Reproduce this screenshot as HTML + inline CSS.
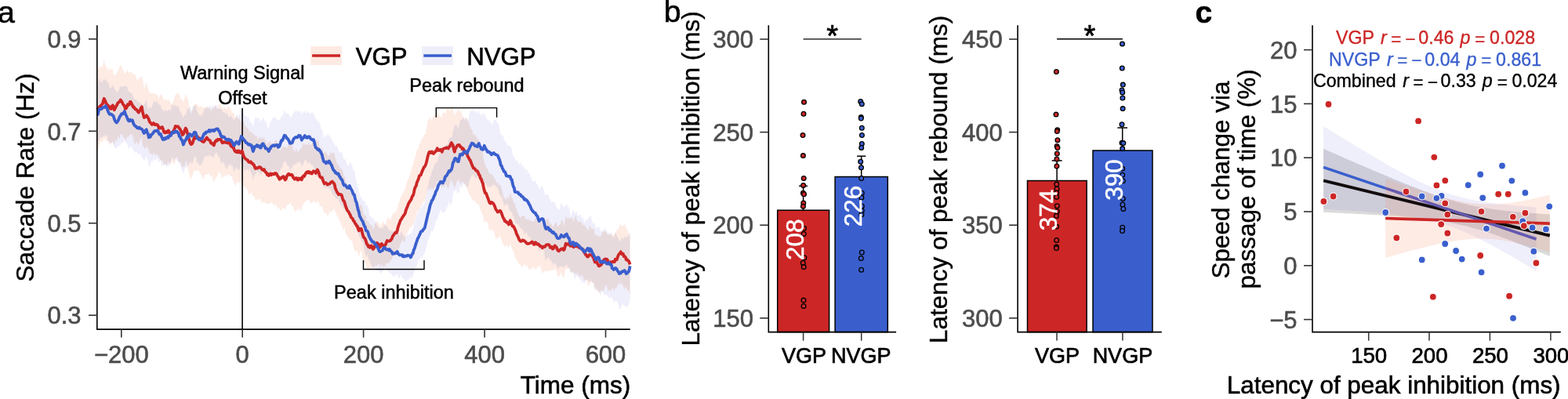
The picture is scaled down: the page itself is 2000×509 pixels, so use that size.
<!DOCTYPE html>
<html lang="en">
<head>
<meta charset="utf-8">
<title>Saccade rate figure</title>
<style>
html,body{margin:0;padding:0;background:#fff;}
body{width:2000px;height:509px;overflow:hidden;}
svg{display:block;font-family:"Liberation Sans",Arial,Helvetica,sans-serif;}
</style>
</head>
<body>
<svg width="2000" height="509" viewBox="0 0 2000 509">
<rect width="2000" height="509" fill="#fff"/>
<g id="panel-a">
<polygon points="123.8,87.7 124.8,88.7 125.8,86.1 126.8,85.7 127.8,85.6 128.8,84.6 129.8,86.1 130.8,84.5 131.8,79.9 132.8,75.4 133.8,81.3 134.8,84.1 135.8,89.2 136.8,85.8 137.8,86.0 138.8,91.6 139.8,87.3 140.8,88.0 141.8,89.4 142.8,87.2 143.8,89.2 144.8,95.0 145.8,96.3 146.8,96.4 147.8,94.6 148.8,93.4 149.8,92.3 150.8,89.0 151.8,87.7 152.8,84.2 153.8,83.1 154.8,84.2 155.8,86.5 156.8,88.4 157.8,91.0 158.8,93.5 159.8,93.9 160.8,92.0 161.8,90.3 162.8,88.3 163.8,92.2 164.8,93.8 165.8,91.1 166.8,92.7 167.8,91.5 168.8,93.9 169.8,93.7 170.8,95.4 171.8,94.7 172.8,95.1 173.8,100.0 174.8,102.3 175.8,100.3 176.8,102.4 177.8,98.0 178.8,99.1 179.8,99.3 180.8,96.1 181.8,99.9 182.8,106.5 183.8,112.4 184.8,111.4 185.8,106.5 186.8,104.5 187.8,109.4 188.8,112.2 189.8,115.8 190.8,119.7 191.8,116.7 192.8,119.5 193.8,119.5 194.8,119.1 195.8,119.1 196.8,117.6 197.8,121.3 198.8,118.8 199.8,121.5 200.8,120.8 201.8,123.4 202.8,126.2 203.8,121.8 204.8,119.8 205.8,122.8 206.8,119.2 207.8,124.3 208.8,128.1 209.8,126.9 210.8,127.1 211.8,128.9 212.8,124.9 213.8,128.9 214.8,127.7 215.8,126.8 216.8,129.6 217.8,131.7 218.8,133.1 219.8,133.0 220.8,128.4 221.8,127.5 222.8,123.4 223.8,120.8 224.8,120.8 225.8,117.7 226.8,118.8 227.8,120.2 228.8,119.4 229.8,124.2 230.8,127.8 231.8,126.5 232.8,127.6 233.8,129.7 234.8,129.3 235.8,123.3 236.8,118.7 237.8,123.7 238.8,124.2 239.8,127.0 240.8,131.8 241.8,136.9 242.8,143.0 243.8,145.9 244.8,140.5 245.8,141.0 246.8,135.6 247.8,134.7 248.8,130.8 249.8,132.4 250.8,133.3 251.8,133.9 252.8,133.4 253.8,136.6 254.8,136.7 255.8,135.4 256.8,135.0 257.8,135.7 258.8,138.5 259.8,135.8 260.8,137.5 261.8,138.5 262.8,137.2 263.8,134.2 264.8,137.4 265.8,138.9 266.8,138.2 267.8,136.6 268.8,141.5 269.8,141.7 270.8,137.9 271.8,137.0 272.8,138.8 273.8,135.9 274.8,134.5 275.8,136.4 276.8,139.5 277.8,138.8 278.8,134.1 279.8,132.5 280.8,130.6 281.8,135.4 282.8,137.0 283.8,138.8 284.8,137.2 285.8,138.0 286.8,135.7 287.8,139.7 288.8,139.5 289.8,137.5 290.8,136.8 291.8,135.7 292.8,136.3 293.8,139.1 294.8,140.2 295.8,143.0 296.8,144.6 297.8,142.9 298.8,145.6 299.8,150.1 300.8,149.9 301.8,149.5 302.8,149.2 303.8,151.6 304.8,151.5 305.8,152.7 306.8,153.6 307.8,156.0 308.8,152.7 309.8,153.1 310.8,155.4 311.8,157.7 312.8,161.3 313.8,161.4 314.8,162.4 315.8,163.8 316.8,164.1 317.8,168.8 318.8,166.0 319.8,169.0 320.8,169.0 321.8,168.8 322.8,171.8 323.8,170.3 324.8,173.1 325.8,174.6 326.8,171.2 327.8,174.9 328.8,178.0 329.8,177.0 330.8,173.7 331.8,175.9 332.8,177.6 333.8,175.3 334.8,175.6 335.8,177.3 336.8,174.0 337.8,178.8 338.8,179.1 339.8,182.2 340.8,184.5 341.8,181.5 342.8,181.5 343.8,179.3 344.8,181.0 345.8,182.9 346.8,183.1 347.8,185.9 348.8,184.2 349.8,181.7 350.8,178.8 351.8,179.2 352.8,178.3 353.8,184.5 354.8,187.9 355.8,189.6 356.8,191.9 357.8,190.8 358.8,190.3 359.8,187.4 360.8,186.6 361.8,187.6 362.8,187.7 363.8,186.8 364.8,187.9 365.8,188.1 366.8,188.4 367.8,182.9 368.8,186.0 369.8,184.5 370.8,183.9 371.8,185.0 372.8,183.5 373.8,190.1 374.8,192.0 375.8,192.1 376.8,193.4 377.8,188.5 378.8,191.6 379.8,194.2 380.8,193.5 381.8,191.8 382.8,190.3 383.8,188.6 384.8,189.8 385.8,185.3 386.8,182.0 387.8,183.8 388.8,185.5 389.8,183.5 390.8,184.0 391.8,185.2 392.8,184.5 393.8,180.5 394.8,184.5 395.8,184.1 396.8,185.3 397.8,183.4 398.8,181.4 399.8,179.5 400.8,179.0 401.8,180.6 402.8,181.3 403.8,177.8 404.8,179.8 405.8,178.6 406.8,181.0 407.8,188.6 408.8,189.9 409.8,189.3 410.8,186.8 411.8,192.3 412.8,194.9 413.8,195.0 414.8,193.4 415.8,192.6 416.8,195.9 417.8,197.4 418.8,199.5 419.8,197.7 420.8,196.0 421.8,194.7 422.8,194.4 423.8,196.5 424.8,195.0 425.8,194.1 426.8,195.3 427.8,202.6 428.8,204.1 429.8,209.5 430.8,208.4 431.8,209.7 432.8,212.3 433.8,215.4 434.8,215.2 435.8,215.0 436.8,216.8 437.8,220.8 438.8,225.0 439.8,224.6 440.8,231.5 441.8,231.2 442.8,236.4 443.8,238.0 444.8,236.5 445.8,241.7 446.8,244.8 447.8,246.3 448.8,245.1 449.8,244.5 450.8,247.3 451.8,246.7 452.8,251.5 453.8,250.7 454.8,257.6 455.8,259.5 456.8,262.2 457.8,265.7 458.8,260.8 459.8,261.4 460.8,261.4 461.8,263.6 462.8,268.7 463.8,273.8 464.8,275.6 465.8,274.3 466.8,275.5 467.8,282.9 468.8,281.6 469.8,282.6 470.8,283.8 471.8,286.5 472.8,287.2 473.8,286.3 474.8,288.9 475.8,290.0 476.8,292.4 477.8,285.9 478.8,284.8 479.8,284.2 480.8,281.5 481.8,283.3 482.8,284.4 483.8,286.0 484.8,291.2 485.8,287.8 486.8,285.5 487.8,283.5 488.8,282.9 489.8,286.1 490.8,286.2 491.8,287.3 492.8,283.6 493.8,278.3 494.8,276.7 495.8,278.7 496.8,279.8 497.8,281.4 498.8,277.9 499.8,273.8 500.8,274.1 501.8,270.4 502.8,272.2 503.8,271.4 504.8,270.5 505.8,268.0 506.8,265.9 507.8,261.3 508.8,256.8 509.8,256.5 510.8,250.5 511.8,251.6 512.8,248.0 513.8,247.3 514.8,245.8 515.8,242.7 516.8,240.4 517.8,236.2 518.8,233.2 519.8,229.7 520.8,228.4 521.8,226.8 522.8,222.3 523.8,219.5 524.8,217.4 525.8,211.6 526.8,210.9 527.8,205.8 528.8,203.7 529.8,199.1 530.8,196.3 531.8,190.1 532.8,190.8 533.8,189.8 534.8,182.5 535.8,184.3 536.8,180.0 537.8,175.5 538.8,177.2 539.8,176.0 540.8,171.0 541.8,171.7 542.8,171.2 543.8,164.1 544.8,160.5 545.8,153.6 546.8,153.0 547.8,150.8 548.8,149.2 549.8,152.9 550.8,151.6 551.8,150.1 552.8,148.2 553.8,145.0 554.8,148.8 555.8,146.7 556.8,144.8 557.8,142.2 558.8,143.4 559.8,146.7 560.8,148.4 561.8,148.0 562.8,150.5 563.8,148.8 564.8,144.0 565.8,142.5 566.8,143.9 567.8,144.4 568.8,144.6 569.8,139.7 570.8,137.8 571.8,137.4 572.8,140.3 573.8,142.3 574.8,135.9 575.8,134.8 576.8,135.4 577.8,139.0 578.8,144.5 579.8,147.7 580.8,144.3 581.8,142.1 582.8,143.7 583.8,140.0 584.8,137.9 585.8,141.0 586.8,143.2 587.8,141.5 588.8,144.2 589.8,148.2 590.8,148.8 591.8,149.2 592.8,153.3 593.8,151.6 594.8,150.1 595.8,151.5 596.8,153.6 597.8,156.2 598.8,160.7 599.8,161.5 600.8,164.9 601.8,165.0 602.8,167.3 603.8,173.1 604.8,171.3 605.8,172.0 606.8,173.6 607.8,174.3 608.8,177.1 609.8,177.3 610.8,179.3 611.8,181.5 612.8,185.5 613.8,186.4 614.8,192.3 615.8,193.7 616.8,202.9 617.8,207.4 618.8,210.1 619.8,212.8 620.8,214.4 621.8,215.6 622.8,217.0 623.8,222.3 624.8,221.3 625.8,221.9 626.8,222.7 627.8,222.6 628.8,223.5 629.8,225.4 630.8,228.5 631.8,228.5 632.8,231.4 633.8,232.8 634.8,234.3 635.8,232.5 636.8,237.4 637.8,235.8 638.8,236.0 639.8,240.8 640.8,244.1 641.8,249.3 642.8,250.9 643.8,252.7 644.8,253.9 645.8,255.3 646.8,250.8 647.8,252.1 648.8,254.2 649.8,249.4 650.8,247.7 651.8,247.6 652.8,252.4 653.8,253.7 654.8,257.9 655.8,258.7 656.8,259.3 657.8,265.2 658.8,265.2 659.8,269.9 660.8,271.6 661.8,275.8 662.8,276.5 663.8,276.3 664.8,279.4 665.8,274.5 666.8,275.0 667.8,275.6 668.8,275.3 669.8,277.9 670.8,279.6 671.8,279.4 672.8,279.5 673.8,281.2 674.8,278.8 675.8,280.3 676.8,282.6 677.8,281.6 678.8,282.2 679.8,283.8 680.8,281.8 681.8,282.2 682.8,276.6 683.8,276.8 684.8,281.9 685.8,279.1 686.8,277.0 687.8,282.8 688.8,281.4 689.8,283.0 690.8,284.1 691.8,283.0 692.8,284.8 693.8,284.0 694.8,281.8 695.8,280.9 696.8,281.0 697.8,278.5 698.8,278.4 699.8,279.7 700.8,283.8 701.8,285.3 702.8,285.3 703.8,286.5 704.8,290.8 705.8,288.1 706.8,287.3 707.8,284.4 708.8,283.6 709.8,284.3 710.8,288.4 711.8,288.4 712.8,289.3 713.8,285.7 714.8,286.2 715.8,281.9 716.8,281.0 717.8,280.9 718.8,286.4 719.8,288.0 720.8,280.3 721.8,275.4 722.8,276.9 723.8,278.5 724.8,280.1 725.8,276.5 726.8,278.8 727.8,279.4 728.8,278.2 729.8,277.3 730.8,281.6 731.8,283.3 732.8,277.4 733.8,276.3 734.8,274.0 735.8,280.6 736.8,281.9 737.8,283.5 738.8,283.1 739.8,281.5 740.8,283.8 741.8,283.7 742.8,285.9 743.8,287.5 744.8,287.2 745.8,287.4 746.8,288.9 747.8,290.3 748.8,292.1 749.8,294.3 750.8,293.1 751.8,289.2 752.8,287.2 753.8,291.2 754.8,292.6 755.8,291.2 756.8,292.0 757.8,293.6 758.8,299.6 759.8,299.4 760.8,299.9 761.8,299.1 762.8,302.2 763.8,302.8 764.8,300.0 765.8,301.3 766.8,301.5 767.8,297.4 768.8,295.5 769.8,294.9 770.8,295.3 771.8,296.9 772.8,293.4 773.8,296.8 774.8,299.1 775.8,299.4 776.8,299.3 777.8,298.6 778.8,299.0 779.8,297.6 780.8,299.8 781.8,300.2 782.8,298.1 783.8,300.5 784.8,297.0 785.8,294.6 786.8,293.5 787.8,292.1 788.8,291.5 789.8,289.4 790.8,286.7 791.8,285.3 792.8,289.4 793.8,287.9 794.8,286.5 795.8,287.6 796.8,286.0 797.8,286.7 798.8,292.5 799.8,291.2 800.8,295.2 801.8,296.9 802.8,299.3 803.6,298.3 803.6,375.1 802.8,373.7 801.8,369.6 800.8,372.0 799.8,368.5 798.8,366.9 797.8,365.2 796.8,369.1 795.8,368.3 794.8,363.9 793.8,362.5 792.8,363.6 791.8,359.0 790.8,363.3 789.8,361.7 788.8,361.5 787.8,362.4 786.8,367.8 785.8,365.6 784.8,368.0 783.8,369.4 782.8,371.3 781.8,366.9 780.8,367.1 779.8,370.2 778.8,372.6 777.8,370.0 776.8,369.2 775.8,373.1 774.8,368.1 773.8,364.1 772.8,363.7 771.8,364.6 770.8,368.9 769.8,371.2 768.8,372.6 767.8,369.2 766.8,370.8 765.8,371.3 764.8,372.9 763.8,375.2 762.8,370.7 761.8,372.3 760.8,365.8 759.8,368.5 758.8,371.5 757.8,365.1 756.8,361.2 755.8,360.7 754.8,361.2 753.8,358.2 752.8,361.3 751.8,363.0 750.8,364.8 749.8,364.1 748.8,359.0 747.8,356.7 746.8,357.0 745.8,356.7 744.8,357.9 743.8,351.7 742.8,352.3 741.8,351.0 740.8,350.6 739.8,354.4 738.8,351.9 737.8,352.2 736.8,346.3 735.8,350.0 734.8,348.7 733.8,349.6 732.8,348.9 731.8,346.1 730.8,347.5 729.8,349.4 728.8,346.6 727.8,347.3 726.8,343.3 725.8,341.1 724.8,344.4 723.8,342.4 722.8,342.4 721.8,343.0 720.8,345.8 719.8,352.9 718.8,354.0 717.8,352.7 716.8,351.6 715.8,347.3 714.8,350.2 713.8,350.8 712.8,353.1 711.8,353.4 710.8,351.8 709.8,345.0 708.8,345.1 707.8,341.3 706.8,343.6 705.8,344.7 704.8,345.7 703.8,344.8 702.8,345.1 701.8,345.0 700.8,345.1 699.8,345.5 698.8,346.6 697.8,346.5 696.8,344.8 695.8,346.2 694.8,345.8 693.8,346.5 692.8,346.9 691.8,350.0 690.8,346.2 689.8,342.0 688.8,339.8 687.8,339.0 686.8,339.5 685.8,341.1 684.8,342.5 683.8,343.0 682.8,342.9 681.8,344.0 680.8,339.8 679.8,341.2 678.8,342.4 677.8,341.2 676.8,344.4 675.8,345.0 674.8,342.9 673.8,342.8 672.8,339.9 671.8,338.4 670.8,338.0 669.8,341.0 668.8,335.4 667.8,337.3 666.8,339.7 665.8,340.1 664.8,340.9 663.8,336.9 662.8,336.3 661.8,338.7 660.8,333.6 659.8,334.0 658.8,330.4 657.8,330.1 656.8,327.1 655.8,322.0 654.8,320.0 653.8,319.7 652.8,316.7 651.8,313.5 650.8,311.3 649.8,312.6 648.8,316.6 647.8,315.1 646.8,311.2 645.8,313.5 644.8,314.2 643.8,315.6 642.8,311.3 641.8,313.0 640.8,310.3 639.8,306.4 638.8,303.5 637.8,301.2 636.8,301.2 635.8,303.9 634.8,303.4 633.8,302.9 632.8,305.9 631.8,302.5 630.8,298.0 629.8,293.6 628.8,295.1 627.8,295.4 626.8,290.8 625.8,294.8 624.8,293.0 623.8,293.5 622.8,285.3 621.8,284.2 620.8,282.1 619.8,282.2 618.8,284.1 617.8,283.3 616.8,280.2 615.8,274.1 614.8,272.3 613.8,268.1 612.8,268.7 611.8,264.5 610.8,261.3 609.8,259.5 608.8,261.5 607.8,259.2 606.8,258.2 605.8,257.1 604.8,254.0 603.8,258.3 602.8,254.1 601.8,254.3 600.8,250.4 599.8,248.8 598.8,249.6 597.8,246.1 596.8,243.1 595.8,240.1 594.8,239.3 593.8,235.3 592.8,234.9 591.8,233.5 590.8,232.0 589.8,231.7 588.8,233.4 587.8,233.8 586.8,234.4 585.8,230.9 584.8,228.2 583.8,230.5 582.8,230.6 581.8,236.4 580.8,235.6 579.8,239.6 578.8,239.4 577.8,233.3 576.8,233.0 575.8,230.7 574.8,229.6 573.8,234.2 572.8,237.2 571.8,241.4 570.8,240.0 569.8,237.3 568.8,234.7 567.8,235.9 566.8,239.6 565.8,237.6 564.8,237.0 563.8,240.0 562.8,239.3 561.8,233.1 560.8,234.4 559.8,234.8 558.8,232.9 557.8,230.8 556.8,234.8 555.8,236.7 554.8,237.9 553.8,239.4 552.8,241.9 551.8,242.2 550.8,238.4 549.8,244.1 548.8,242.0 547.8,238.3 546.8,241.4 545.8,243.1 544.8,243.0 543.8,249.2 542.8,253.1 541.8,256.7 540.8,256.5 539.8,258.4 538.8,259.7 537.8,262.2 536.8,263.5 535.8,263.1 534.8,266.3 533.8,268.6 532.8,268.8 531.8,271.6 530.8,276.5 529.8,279.8 528.8,280.0 527.8,286.3 526.8,286.6 525.8,287.6 524.8,290.3 523.8,290.7 522.8,289.4 521.8,292.2 520.8,296.0 519.8,295.4 518.8,298.3 517.8,300.5 516.8,307.6 515.8,309.4 514.8,307.2 513.8,305.4 512.8,306.6 511.8,310.7 510.8,309.1 509.8,314.8 508.8,316.3 507.8,318.5 506.8,323.9 505.8,325.0 504.8,325.1 503.8,328.0 502.8,325.5 501.8,326.9 500.8,327.6 499.8,330.3 498.8,332.2 497.8,333.1 496.8,334.9 495.8,335.6 494.8,335.1 493.8,336.7 492.8,334.9 491.8,337.8 490.8,339.7 489.8,340.7 488.8,340.4 487.8,338.3 486.8,335.6 485.8,340.2 484.8,341.3 483.8,337.0 482.8,337.0 481.8,337.2 480.8,339.1 479.8,339.8 478.8,338.4 477.8,339.0 476.8,343.7 475.8,343.3 474.8,341.5 473.8,340.3 472.8,341.7 471.8,343.8 470.8,340.8 469.8,344.7 468.8,344.3 467.8,341.7 466.8,335.6 465.8,334.0 464.8,335.6 463.8,334.3 462.8,330.0 461.8,323.9 460.8,319.0 459.8,320.5 458.8,323.8 457.8,326.7 456.8,325.0 455.8,318.5 454.8,320.4 453.8,321.6 452.8,320.1 451.8,318.2 450.8,315.7 449.8,309.8 448.8,306.6 447.8,307.6 446.8,305.9 445.8,305.8 444.8,303.3 443.8,303.5 442.8,300.0 441.8,299.9 440.8,298.4 439.8,291.3 438.8,289.9 437.8,294.6 436.8,290.7 435.8,287.8 434.8,285.8 433.8,282.6 432.8,281.4 431.8,278.4 430.8,276.7 429.8,274.4 428.8,272.4 427.8,271.1 426.8,267.0 425.8,266.0 424.8,267.5 423.8,270.3 422.8,270.2 421.8,269.1 420.8,270.3 419.8,271.9 418.8,274.1 417.8,276.0 416.8,273.1 415.8,272.6 414.8,270.8 413.8,273.3 412.8,268.3 411.8,267.8 410.8,263.2 409.8,263.1 408.8,263.2 407.8,263.1 406.8,258.7 405.8,257.2 404.8,255.3 403.8,259.0 402.8,259.7 401.8,256.7 400.8,256.7 399.8,256.6 398.8,257.9 397.8,257.7 396.8,260.3 395.8,258.7 394.8,255.9 393.8,253.7 392.8,255.8 391.8,255.8 390.8,257.5 389.8,255.4 388.8,257.6 387.8,259.4 386.8,260.5 385.8,262.5 384.8,269.8 383.8,265.2 382.8,268.7 381.8,268.3 380.8,263.5 379.8,267.7 378.8,268.8 377.8,266.4 376.8,269.9 375.8,269.9 374.8,266.6 373.8,262.5 372.8,263.0 371.8,262.8 370.8,258.8 369.8,259.2 368.8,259.3 367.8,262.0 366.8,260.7 365.8,262.4 364.8,265.8 363.8,267.2 362.8,265.9 361.8,265.2 360.8,265.0 359.8,267.7 358.8,267.9 357.8,267.9 356.8,267.7 355.8,264.4 354.8,264.9 353.8,266.9 352.8,263.0 351.8,260.3 350.8,261.6 349.8,263.5 348.8,259.7 347.8,261.5 346.8,256.9 345.8,260.2 344.8,259.4 343.8,258.5 342.8,260.2 341.8,259.7 340.8,261.1 339.8,259.4 338.8,258.7 337.8,259.4 336.8,255.7 335.8,258.8 334.8,258.3 333.8,259.1 332.8,255.1 331.8,254.1 330.8,252.7 329.8,255.1 328.8,254.3 327.8,253.9 326.8,256.6 325.8,256.6 324.8,252.1 323.8,249.5 322.8,251.6 321.8,248.1 320.8,246.9 319.8,244.7 318.8,248.0 317.8,247.6 316.8,247.4 315.8,241.2 314.8,241.7 313.8,240.1 312.8,239.7 311.8,239.0 310.8,237.0 309.8,237.8 308.8,230.6 307.8,232.2 306.8,234.3 305.8,234.3 304.8,230.6 303.8,234.2 302.8,232.1 301.8,232.8 300.8,235.9 299.8,237.9 298.8,234.3 297.8,231.0 296.8,229.6 295.8,225.0 294.8,224.9 293.8,224.6 292.8,223.9 291.8,221.8 290.8,223.6 289.8,222.6 288.8,224.6 287.8,225.4 286.8,224.2 285.8,222.4 284.8,226.8 283.8,227.1 282.8,226.5 281.8,223.4 280.8,219.8 279.8,219.8 278.8,220.0 277.8,222.5 276.8,226.6 275.8,225.2 274.8,228.4 273.8,230.0 272.8,232.1 271.8,230.5 270.8,226.3 269.8,223.9 268.8,226.6 267.8,223.5 266.8,221.3 265.8,221.7 264.8,222.4 263.8,222.1 262.8,223.5 261.8,222.5 260.8,224.3 259.8,228.0 258.8,228.4 257.8,226.5 256.8,223.9 255.8,221.4 254.8,221.6 253.8,218.3 252.8,217.3 251.8,217.0 250.8,219.3 249.8,217.0 248.8,218.3 247.8,218.2 246.8,218.6 245.8,222.7 244.8,225.2 243.8,228.5 242.8,227.0 241.8,223.2 240.8,220.9 239.8,214.1 238.8,212.3 237.8,205.6 236.8,205.1 235.8,211.0 234.8,213.0 233.8,211.7 232.8,214.3 231.8,210.8 230.8,208.2 229.8,205.9 228.8,207.3 227.8,206.4 226.8,203.3 225.8,200.7 224.8,200.5 223.8,204.2 222.8,209.3 221.8,209.4 220.8,207.1 219.8,205.7 218.8,207.4 217.8,209.9 216.8,209.9 215.8,209.7 214.8,205.0 213.8,207.9 212.8,211.4 211.8,209.2 210.8,208.2 209.8,210.0 208.8,210.5 207.8,204.0 206.8,205.7 205.8,204.5 204.8,205.1 203.8,202.2 202.8,200.9 201.8,198.2 200.8,197.4 199.8,196.1 198.8,198.3 197.8,196.9 196.8,195.2 195.8,194.2 194.8,198.7 193.8,196.7 192.8,197.0 191.8,194.8 190.8,196.7 189.8,191.4 188.8,189.3 187.8,187.2 186.8,187.8 185.8,188.9 184.8,190.5 183.8,187.8 182.8,187.6 181.8,184.1 180.8,175.9 179.8,176.2 178.8,178.8 177.8,180.9 176.8,185.7 175.8,184.0 174.8,180.7 173.8,181.0 172.8,183.6 171.8,183.7 170.8,180.1 169.8,177.0 168.8,171.6 167.8,172.4 166.8,170.8 165.8,171.2 164.8,173.7 163.8,174.8 162.8,175.0 161.8,174.7 160.8,177.6 159.8,181.0 158.8,174.9 157.8,176.4 156.8,173.1 155.8,170.9 154.8,171.6 153.8,170.7 152.8,177.1 151.8,176.3 150.8,172.9 149.8,177.3 148.8,180.4 147.8,177.2 146.8,181.4 145.8,187.5 144.8,182.0 143.8,179.4 142.8,182.1 141.8,183.2 140.8,186.4 139.8,181.2 138.8,185.0 137.8,179.4 136.8,180.0 135.8,179.7 134.8,179.6 133.8,177.2 132.8,175.6 131.8,178.9 130.8,181.8 129.8,179.6 128.8,180.9 127.8,181.0 126.8,184.3 125.8,189.7 124.8,189.5 123.8,187.3" fill="#f59b78" fill-opacity="0.2"/>
<polygon points="123.8,110.6 124.8,108.8 125.8,103.6 126.8,99.2 127.8,102.8 128.8,104.4 129.8,105.3 130.8,103.9 131.8,100.7 132.8,102.8 133.8,101.2 134.8,100.9 135.8,103.3 136.8,104.5 137.8,104.5 138.8,106.8 139.8,112.0 140.8,112.0 141.8,113.1 142.8,110.0 143.8,109.0 144.8,109.5 145.8,112.4 146.8,115.1 147.8,115.6 148.8,116.7 149.8,118.8 150.8,115.7 151.8,114.7 152.8,111.0 153.8,110.7 154.8,110.0 155.8,110.3 156.8,110.9 157.8,110.1 158.8,110.0 159.8,109.5 160.8,110.1 161.8,110.2 162.8,113.6 163.8,116.7 164.8,116.8 165.8,118.6 166.8,118.1 167.8,119.1 168.8,120.2 169.8,124.0 170.8,124.9 171.8,127.3 172.8,127.2 173.8,126.1 174.8,128.6 175.8,130.4 176.8,129.9 177.8,129.7 178.8,131.3 179.8,132.4 180.8,131.8 181.8,134.5 182.8,134.1 183.8,132.1 184.8,132.6 185.8,129.4 186.8,126.4 187.8,134.8 188.8,138.0 189.8,139.3 190.8,136.9 191.8,137.0 192.8,137.2 193.8,137.1 194.8,133.2 195.8,129.9 196.8,128.3 197.8,131.5 198.8,129.5 199.8,130.7 200.8,129.1 201.8,133.7 202.8,132.6 203.8,134.0 204.8,132.7 205.8,138.6 206.8,139.5 207.8,141.5 208.8,140.3 209.8,142.4 210.8,138.9 211.8,141.5 212.8,141.4 213.8,141.5 214.8,140.0 215.8,140.0 216.8,139.9 217.8,141.3 218.8,135.7 219.8,132.7 220.8,133.5 221.8,135.6 222.8,135.1 223.8,133.5 224.8,135.8 225.8,137.1 226.8,133.5 227.8,136.6 228.8,141.2 229.8,141.7 230.8,143.2 231.8,146.2 232.8,147.2 233.8,151.4 234.8,146.0 235.8,147.2 236.8,146.5 237.8,143.2 238.8,137.3 239.8,140.0 240.8,138.4 241.8,135.5 242.8,137.8 243.8,141.7 244.8,141.2 245.8,136.3 246.8,134.6 247.8,135.3 248.8,133.9 249.8,133.5 250.8,140.7 251.8,142.1 252.8,144.4 253.8,147.0 254.8,147.3 255.8,147.4 256.8,145.8 257.8,148.0 258.8,144.1 259.8,142.5 260.8,137.8 261.8,137.5 262.8,138.9 263.8,136.0 264.8,137.3 265.8,136.4 266.8,134.0 267.8,136.7 268.8,135.9 269.8,135.9 270.8,137.7 271.8,132.8 272.8,137.1 273.8,133.2 274.8,134.5 275.8,134.3 276.8,134.0 277.8,136.0 278.8,138.6 279.8,138.2 280.8,140.1 281.8,139.1 282.8,138.9 283.8,143.0 284.8,142.7 285.8,144.7 286.8,142.9 287.8,145.5 288.8,143.8 289.8,145.0 290.8,146.8 291.8,149.1 292.8,150.0 293.8,145.5 294.8,148.4 295.8,149.6 296.8,150.6 297.8,154.0 298.8,151.8 299.8,152.0 300.8,148.4 301.8,146.6 302.8,145.2 303.8,148.5 304.8,147.3 305.8,145.7 306.8,143.6 307.8,139.6 308.8,139.5 309.8,139.5 310.8,145.6 311.8,148.4 312.8,148.4 313.8,147.8 314.8,148.3 315.8,151.0 316.8,149.0 317.8,151.4 318.8,153.8 319.8,156.8 320.8,157.5 321.8,157.3 322.8,163.1 323.8,157.7 324.8,151.7 325.8,149.8 326.8,149.3 327.8,150.5 328.8,152.3 329.8,150.1 330.8,150.5 331.8,155.4 332.8,153.8 333.8,153.4 334.8,152.5 335.8,148.4 336.8,151.9 337.8,155.0 338.8,155.1 339.8,155.8 340.8,160.1 341.8,162.9 342.8,163.9 343.8,159.8 344.8,155.4 345.8,154.9 346.8,151.9 347.8,149.6 348.8,151.2 349.8,149.6 350.8,149.5 351.8,150.3 352.8,152.5 353.8,152.4 354.8,152.5 355.8,153.1 356.8,154.0 357.8,151.0 358.8,147.2 359.8,149.1 360.8,145.5 361.8,145.3 362.8,139.3 363.8,141.9 364.8,144.6 365.8,144.6 366.8,145.5 367.8,143.9 368.8,146.2 369.8,149.4 370.8,147.2 371.8,150.2 372.8,147.6 373.8,144.5 374.8,143.5 375.8,140.1 376.8,143.6 377.8,140.5 378.8,143.8 379.8,140.6 380.8,141.5 381.8,143.5 382.8,141.9 383.8,140.4 384.8,146.3 385.8,144.0 386.8,142.7 387.8,142.8 388.8,140.6 389.8,145.1 390.8,144.7 391.8,142.2 392.8,142.1 393.8,143.5 394.8,145.3 395.8,144.0 396.8,145.5 397.8,142.7 398.8,143.0 399.8,146.2 400.8,145.7 401.8,148.8 402.8,151.7 403.8,152.0 404.8,154.2 405.8,155.5 406.8,155.1 407.8,157.6 408.8,161.0 409.8,165.5 410.8,164.9 411.8,168.9 412.8,175.3 413.8,174.4 414.8,173.4 415.8,175.3 416.8,171.9 417.8,171.0 418.8,174.2 419.8,170.5 420.8,173.6 421.8,175.5 422.8,178.1 423.8,177.9 424.8,182.6 425.8,181.8 426.8,185.0 427.8,186.7 428.8,184.6 429.8,186.7 430.8,188.5 431.8,191.9 432.8,194.0 433.8,194.8 434.8,194.8 435.8,194.2 436.8,194.3 437.8,200.5 438.8,204.0 439.8,203.2 440.8,202.7 441.8,207.8 442.8,210.5 443.8,211.4 444.8,211.0 445.8,208.1 446.8,206.2 447.8,210.8 448.8,209.1 449.8,214.5 450.8,218.7 451.8,214.9 452.8,223.1 453.8,228.8 454.8,231.4 455.8,237.1 456.8,240.0 457.8,243.2 458.8,249.1 459.8,251.6 460.8,250.4 461.8,254.1 462.8,255.6 463.8,256.7 464.8,256.1 465.8,257.5 466.8,261.7 467.8,261.9 468.8,262.0 469.8,264.3 470.8,271.8 471.8,276.3 472.8,276.3 473.8,276.9 474.8,278.7 475.8,277.1 476.8,280.4 477.8,280.8 478.8,282.2 479.8,283.3 480.8,287.7 481.8,288.3 482.8,289.6 483.8,291.4 484.8,289.5 485.8,291.7 486.8,289.9 487.8,292.7 488.8,288.4 489.8,289.2 490.8,285.8 491.8,285.3 492.8,289.6 493.8,287.7 494.8,290.8 495.8,292.8 496.8,293.1 497.8,293.4 498.8,295.9 499.8,293.9 500.8,295.6 501.8,295.7 502.8,294.4 503.8,296.1 504.8,296.1 505.8,296.7 506.8,296.9 507.8,295.3 508.8,298.7 509.8,301.1 510.8,297.2 511.8,295.1 512.8,296.6 513.8,299.4 514.8,300.4 515.8,303.6 516.8,300.9 517.8,301.2 518.8,302.3 519.8,296.9 520.8,300.2 521.8,299.7 522.8,297.4 523.8,297.6 524.8,298.9 525.8,293.6 526.8,292.7 527.8,287.4 528.8,283.4 529.8,279.3 530.8,277.2 531.8,273.6 532.8,271.7 533.8,270.6 534.8,266.3 535.8,264.6 536.8,263.3 537.8,265.5 538.8,262.0 539.8,260.9 540.8,259.9 541.8,259.0 542.8,253.4 543.8,249.2 544.8,242.0 545.8,237.6 546.8,234.6 547.8,228.5 548.8,225.6 549.8,223.2 550.8,218.5 551.8,217.1 552.8,214.3 553.8,209.9 554.8,209.8 555.8,206.5 556.8,207.4 557.8,206.2 558.8,201.5 559.8,198.5 560.8,194.2 561.8,195.8 562.8,195.6 563.8,193.6 564.8,194.7 565.8,190.0 566.8,191.5 567.8,185.1 568.8,184.9 569.8,183.4 570.8,184.4 571.8,181.8 572.8,176.5 573.8,176.2 574.8,175.3 575.8,175.1 576.8,174.8 577.8,166.3 578.8,165.6 579.8,160.1 580.8,158.8 581.8,160.6 582.8,158.9 583.8,165.2 584.8,161.7 585.8,160.5 586.8,152.5 587.8,153.0 588.8,153.2 589.8,151.6 590.8,151.0 591.8,149.6 592.8,153.2 593.8,149.7 594.8,149.7 595.8,153.8 596.8,153.1 597.8,150.3 598.8,144.6 599.8,140.7 600.8,140.9 601.8,142.3 602.8,139.3 603.8,142.4 604.8,141.2 605.8,143.3 606.8,140.6 607.8,144.8 608.8,143.3 609.8,140.0 610.8,142.5 611.8,144.3 612.8,146.7 613.8,147.4 614.8,144.2 615.8,146.2 616.8,146.4 617.8,142.4 618.8,147.2 619.8,148.9 620.8,152.3 621.8,151.9 622.8,154.2 623.8,153.1 624.8,155.8 625.8,154.3 626.8,158.8 627.8,159.5 628.8,155.7 629.8,152.8 630.8,152.1 631.8,153.2 632.8,151.6 633.8,156.4 634.8,156.4 635.8,158.1 636.8,163.1 637.8,167.6 638.8,172.9 639.8,171.9 640.8,172.7 641.8,173.5 642.8,176.6 643.8,180.0 644.8,179.5 645.8,183.3 646.8,185.6 647.8,184.3 648.8,186.3 649.8,186.3 650.8,186.2 651.8,187.3 652.8,190.9 653.8,195.4 654.8,200.1 655.8,199.5 656.8,202.8 657.8,205.4 658.8,204.0 659.8,205.1 660.8,207.0 661.8,209.9 662.8,209.0 663.8,206.7 664.8,208.8 665.8,213.3 666.8,210.7 667.8,212.0 668.8,214.9 669.8,215.8 670.8,216.8 671.8,215.1 672.8,218.1 673.8,221.4 674.8,219.8 675.8,222.2 676.8,227.3 677.8,226.2 678.8,230.5 679.8,231.9 680.8,231.3 681.8,231.1 682.8,229.3 683.8,235.1 684.8,235.4 685.8,234.6 686.8,239.8 687.8,240.8 688.8,240.4 689.8,238.9 690.8,236.2 691.8,238.9 692.8,238.6 693.8,244.1 694.8,246.2 695.8,249.1 696.8,249.3 697.8,248.0 698.8,248.3 699.8,248.1 700.8,254.8 701.8,253.4 702.8,257.9 703.8,257.4 704.8,256.9 705.8,257.7 706.8,257.2 707.8,259.0 708.8,261.8 709.8,265.2 710.8,265.4 711.8,266.1 712.8,268.3 713.8,267.3 714.8,261.5 715.8,259.9 716.8,259.8 717.8,261.9 718.8,265.5 719.8,263.2 720.8,262.6 721.8,263.3 722.8,260.1 723.8,261.2 724.8,266.5 725.8,262.8 726.8,270.5 727.8,274.7 728.8,274.7 729.8,270.2 730.8,267.6 731.8,267.9 732.8,273.1 733.8,270.3 734.8,271.9 735.8,269.2 736.8,274.2 737.8,276.2 738.8,274.1 739.8,274.2 740.8,274.5 741.8,278.6 742.8,275.7 743.8,279.0 744.8,281.6 745.8,285.2 746.8,279.1 747.8,281.6 748.8,280.9 749.8,279.2 750.8,277.4 751.8,277.9 752.8,274.0 753.8,275.8 754.8,282.5 755.8,282.6 756.8,286.2 757.8,284.5 758.8,284.4 759.8,291.7 760.8,289.7 761.8,289.8 762.8,290.9 763.8,287.4 764.8,291.7 765.8,295.1 766.8,293.9 767.8,295.4 768.8,294.8 769.8,293.5 770.8,289.8 771.8,294.1 772.8,291.7 773.8,296.3 774.8,297.5 775.8,296.1 776.8,296.4 777.8,299.4 778.8,295.9 779.8,296.6 780.8,302.4 781.8,301.4 782.8,304.3 783.8,300.7 784.8,296.2 785.8,298.1 786.8,300.5 787.8,303.1 788.8,304.5 789.8,306.7 790.8,307.0 791.8,307.4 792.8,303.3 793.8,302.4 794.8,305.2 795.8,305.0 796.8,300.5 797.8,303.3 798.8,302.9 799.8,302.3 800.8,301.0 801.8,302.0 802.8,298.6 803.6,294.7 803.6,382.5 802.8,384.5 801.8,388.6 800.8,391.5 799.8,391.1 798.8,391.0 797.8,389.9 796.8,391.9 795.8,388.9 794.8,388.5 793.8,388.0 792.8,390.1 791.8,393.2 790.8,394.4 789.8,394.6 788.8,388.8 787.8,386.6 786.8,383.7 785.8,383.7 784.8,383.6 783.8,383.9 782.8,386.4 781.8,381.8 780.8,381.1 779.8,377.9 778.8,379.9 777.8,381.4 776.8,378.6 775.8,379.6 774.8,376.9 773.8,377.3 772.8,375.4 771.8,376.9 770.8,374.9 769.8,375.5 768.8,371.8 767.8,371.4 766.8,374.2 765.8,377.5 764.8,372.2 763.8,372.5 762.8,370.9 761.8,369.7 760.8,371.0 759.8,368.4 758.8,369.3 757.8,362.7 756.8,360.5 755.8,360.2 754.8,359.5 753.8,356.4 752.8,359.5 751.8,359.3 750.8,359.1 749.8,356.9 748.8,356.3 747.8,358.0 746.8,358.8 745.8,362.6 744.8,359.0 743.8,362.1 742.8,358.4 741.8,360.4 740.8,356.1 739.8,357.1 738.8,354.0 737.8,354.0 736.8,352.1 735.8,353.0 734.8,350.8 733.8,356.6 732.8,355.9 731.8,350.5 730.8,346.9 729.8,345.7 728.8,348.8 727.8,347.3 726.8,345.2 725.8,340.4 724.8,342.1 723.8,340.0 722.8,336.1 721.8,340.0 720.8,338.1 719.8,340.2 718.8,342.1 717.8,341.4 716.8,338.7 715.8,340.6 714.8,339.9 713.8,339.8 712.8,341.1 711.8,343.2 710.8,342.4 709.8,338.3 708.8,336.4 707.8,338.0 706.8,335.7 705.8,334.8 704.8,338.4 703.8,334.4 702.8,330.8 701.8,332.8 700.8,331.1 699.8,327.6 698.8,328.6 697.8,329.7 696.8,333.1 695.8,331.7 694.8,325.9 693.8,319.7 692.8,318.2 691.8,316.0 690.8,316.7 689.8,318.3 688.8,320.7 687.8,320.2 686.8,317.9 685.8,312.8 684.8,313.3 683.8,314.9 682.8,309.5 681.8,311.2 680.8,308.7 679.8,311.4 678.8,306.7 677.8,306.6 676.8,305.7 675.8,300.5 674.8,302.8 673.8,301.8 672.8,299.3 671.8,295.7 670.8,299.3 669.8,296.4 668.8,299.2 667.8,295.8 666.8,292.6 665.8,292.2 664.8,292.0 663.8,290.5 662.8,290.2 661.8,287.3 660.8,287.3 659.8,284.9 658.8,285.6 657.8,285.4 656.8,281.7 655.8,277.9 654.8,275.7 653.8,274.0 652.8,269.9 651.8,271.2 650.8,268.8 649.8,267.9 648.8,264.8 647.8,260.4 646.8,260.4 645.8,261.3 644.8,260.3 643.8,263.3 642.8,260.8 641.8,259.2 640.8,253.5 639.8,249.9 638.8,253.0 637.8,248.3 636.8,247.9 635.8,244.0 634.8,238.8 633.8,239.4 632.8,239.2 631.8,235.9 630.8,236.5 629.8,236.0 628.8,234.1 627.8,237.6 626.8,238.1 625.8,238.1 624.8,239.3 623.8,237.1 622.8,238.4 621.8,238.5 620.8,236.7 619.8,234.0 618.8,234.8 617.8,230.9 616.8,234.0 615.8,231.6 614.8,231.9 613.8,234.9 612.8,231.4 611.8,227.7 610.8,221.0 609.8,224.3 608.8,226.7 607.8,228.1 606.8,225.4 605.8,228.2 604.8,224.5 603.8,222.2 602.8,222.7 601.8,225.9 600.8,224.3 599.8,228.7 598.8,230.2 597.8,236.8 596.8,237.4 595.8,240.5 594.8,236.9 593.8,235.8 592.8,238.1 591.8,234.3 590.8,235.6 589.8,238.2 588.8,240.7 587.8,236.5 586.8,237.9 585.8,244.9 584.8,246.1 583.8,247.2 582.8,242.9 581.8,241.9 580.8,244.7 579.8,241.4 578.8,244.8 577.8,248.1 576.8,257.5 575.8,259.2 574.8,261.3 573.8,261.4 572.8,257.0 571.8,259.0 570.8,264.7 569.8,263.7 568.8,267.5 567.8,269.3 566.8,271.6 565.8,271.2 564.8,271.5 563.8,269.8 562.8,270.1 561.8,266.6 560.8,271.3 559.8,273.1 558.8,276.6 557.8,279.0 556.8,282.0 555.8,281.1 554.8,286.4 553.8,289.8 552.8,293.7 551.8,295.2 550.8,294.5 549.8,295.2 548.8,298.6 547.8,301.9 546.8,304.8 545.8,306.8 544.8,310.3 543.8,316.0 542.8,317.7 541.8,322.8 540.8,324.6 539.8,326.3 538.8,330.1 537.8,326.9 536.8,328.0 535.8,331.7 534.8,329.2 533.8,332.1 532.8,333.0 531.8,339.7 530.8,340.1 529.8,341.7 528.8,345.4 527.8,347.7 526.8,352.4 525.8,354.6 524.8,352.6 523.8,357.1 522.8,353.2 521.8,355.1 520.8,357.8 519.8,356.3 518.8,359.8 517.8,359.2 516.8,358.7 515.8,356.9 514.8,355.4 513.8,355.3 512.8,354.0 511.8,349.8 510.8,352.2 509.8,354.5 508.8,355.2 507.8,351.9 506.8,349.1 505.8,352.3 504.8,348.8 503.8,353.8 502.8,353.2 501.8,350.8 500.8,354.2 499.8,348.4 498.8,350.0 497.8,349.8 496.8,345.3 495.8,348.3 494.8,345.9 493.8,341.9 492.8,343.6 491.8,342.9 490.8,341.4 489.8,342.3 488.8,345.5 487.8,345.9 486.8,347.2 485.8,350.8 484.8,347.0 483.8,347.4 482.8,345.5 481.8,344.2 480.8,346.4 479.8,343.1 478.8,343.7 477.8,340.4 476.8,342.6 475.8,341.1 474.8,341.5 473.8,337.4 472.8,336.9 471.8,332.5 470.8,332.0 469.8,330.4 468.8,324.0 467.8,326.2 466.8,328.5 465.8,323.1 464.8,319.4 463.8,314.3 462.8,309.1 461.8,308.6 460.8,307.3 459.8,303.4 458.8,303.1 457.8,300.3 456.8,296.9 455.8,296.6 454.8,292.5 453.8,290.2 452.8,282.9 451.8,278.1 450.8,279.7 449.8,279.7 448.8,274.6 447.8,275.4 446.8,270.3 445.8,265.3 444.8,270.4 443.8,270.7 442.8,270.4 441.8,268.2 440.8,270.0 439.8,265.7 438.8,267.7 437.8,264.4 436.8,263.7 435.8,259.6 434.8,263.2 433.8,259.2 432.8,258.2 431.8,251.7 430.8,253.7 429.8,253.9 428.8,253.8 427.8,252.1 426.8,248.7 425.8,250.3 424.8,248.1 423.8,248.1 422.8,244.2 421.8,240.1 420.8,242.3 419.8,239.6 418.8,240.1 417.8,239.9 416.8,236.5 415.8,240.8 414.8,237.9 413.8,238.2 412.8,239.3 411.8,232.9 410.8,231.0 409.8,225.8 408.8,224.6 407.8,226.4 406.8,220.9 405.8,221.9 404.8,224.7 403.8,225.9 402.8,223.3 401.8,218.1 400.8,214.8 399.8,212.5 398.8,210.3 397.8,210.2 396.8,211.1 395.8,208.8 394.8,206.7 393.8,207.1 392.8,209.2 391.8,207.4 390.8,204.7 389.8,204.5 388.8,205.0 387.8,205.2 386.8,210.7 385.8,208.9 384.8,214.4 383.8,207.9 382.8,207.2 381.8,206.3 380.8,206.8 379.8,207.4 378.8,206.8 377.8,209.3 376.8,210.2 375.8,208.2 374.8,210.9 373.8,209.6 372.8,214.7 371.8,213.4 370.8,215.4 369.8,217.9 368.8,212.8 367.8,211.3 366.8,211.4 365.8,209.5 364.8,207.6 363.8,205.6 362.8,206.3 361.8,206.7 360.8,209.7 359.8,214.6 358.8,213.5 357.8,216.4 356.8,217.4 355.8,221.2 354.8,223.2 353.8,219.3 352.8,218.9 351.8,217.8 350.8,216.3 349.8,220.0 348.8,218.9 347.8,215.5 346.8,218.4 345.8,220.7 344.8,219.6 343.8,219.7 342.8,223.1 341.8,222.0 340.8,222.9 339.8,221.5 338.8,222.5 337.8,220.5 336.8,215.2 335.8,215.3 334.8,217.8 333.8,221.4 332.8,222.8 331.8,221.9 330.8,221.2 329.8,219.0 328.8,218.9 327.8,217.0 326.8,222.6 325.8,221.3 324.8,223.2 323.8,225.8 322.8,230.3 321.8,224.8 320.8,221.0 319.8,219.9 318.8,214.0 317.8,215.6 316.8,219.9 315.8,215.5 314.8,215.7 313.8,216.9 312.8,217.9 311.8,216.4 310.8,215.2 309.8,212.2 308.8,207.5 307.8,208.7 306.8,208.1 305.8,214.3 304.8,217.5 303.8,215.6 302.8,216.7 301.8,212.5 300.8,215.1 299.8,216.6 298.8,219.1 297.8,215.7 296.8,211.2 295.8,213.3 294.8,209.7 293.8,208.7 292.8,211.2 291.8,211.9 290.8,209.8 289.8,216.0 288.8,214.9 287.8,213.6 286.8,211.6 285.8,207.3 284.8,208.6 283.8,205.0 282.8,209.2 281.8,208.2 280.8,203.3 279.8,198.6 278.8,202.1 277.8,198.7 276.8,195.3 275.8,194.4 274.8,195.8 273.8,196.3 272.8,200.7 271.8,200.0 270.8,201.3 269.8,198.2 268.8,199.1 267.8,199.9 266.8,196.5 265.8,199.9 264.8,197.9 263.8,200.7 262.8,197.3 261.8,200.1 260.8,200.0 259.8,203.1 258.8,205.9 257.8,208.9 256.8,210.7 255.8,209.6 254.8,210.9 253.8,209.9 252.8,207.7 251.8,207.0 250.8,207.1 249.8,199.8 248.8,198.9 247.8,200.8 246.8,204.2 245.8,206.9 244.8,210.0 243.8,206.1 242.8,207.6 241.8,207.9 240.8,207.7 239.8,212.7 238.8,210.3 237.8,213.9 236.8,213.1 235.8,214.8 234.8,219.8 233.8,221.2 232.8,218.6 231.8,216.5 230.8,213.6 229.8,209.9 228.8,209.5 227.8,206.9 226.8,204.9 225.8,205.7 224.8,203.0 223.8,200.8 222.8,203.6 221.8,205.0 220.8,201.8 219.8,200.5 218.8,202.4 217.8,205.4 216.8,207.4 215.8,209.6 214.8,214.0 213.8,209.7 212.8,213.0 211.8,214.3 210.8,208.7 209.8,209.9 208.8,211.3 207.8,212.1 206.8,211.0 205.8,208.9 204.8,203.8 203.8,205.9 202.8,206.2 201.8,206.4 200.8,202.1 199.8,201.8 198.8,203.8 197.8,205.4 196.8,203.0 195.8,201.6 194.8,206.5 193.8,207.0 192.8,204.4 191.8,209.1 190.8,213.7 189.8,212.0 188.8,203.9 187.8,203.3 186.8,198.4 185.8,202.2 184.8,203.4 183.8,205.1 182.8,203.7 181.8,201.6 180.8,200.3 179.8,198.1 178.8,195.9 177.8,196.7 176.8,196.4 175.8,197.7 174.8,194.2 173.8,194.1 172.8,194.1 171.8,196.3 170.8,191.6 169.8,191.7 168.8,189.1 167.8,187.0 166.8,187.7 165.8,186.1 164.8,190.0 163.8,189.5 162.8,183.6 161.8,182.7 160.8,183.1 159.8,180.0 158.8,175.9 157.8,181.5 156.8,183.5 155.8,181.3 154.8,182.0 153.8,186.0 152.8,184.0 151.8,187.9 150.8,185.5 149.8,186.8 148.8,189.8 147.8,189.1 146.8,190.1 145.8,185.9 144.8,185.1 143.8,182.6 142.8,181.0 141.8,183.0 140.8,182.7 139.8,180.2 138.8,180.2 137.8,179.5 136.8,172.9 135.8,171.9 134.8,173.0 133.8,172.9 132.8,174.3 131.8,173.0 130.8,175.1 129.8,176.2 128.8,174.5 127.8,176.0 126.8,179.0 125.8,179.8 124.8,183.1 123.8,180.6" fill="#5f55d7" fill-opacity="0.1"/>
<polygon points="123.8,110.6 124.8,108.8 125.8,103.6 126.8,99.2 127.8,102.8 128.8,104.4 129.8,105.3 130.8,103.9 131.8,100.7 132.8,102.8 133.8,101.2 134.8,100.9 135.8,103.3 136.8,104.5 137.8,104.5 138.8,106.8 139.8,112.0 140.8,112.0 141.8,113.1 142.8,110.0 143.8,109.0 144.8,109.5 145.8,112.4 146.8,115.1 147.8,115.6 148.8,116.7 149.8,118.8 150.8,115.7 151.8,114.7 152.8,111.0 153.8,110.7 154.8,110.0 155.8,110.3 156.8,110.9 157.8,110.1 158.8,110.0 159.8,109.5 160.8,110.1 161.8,110.2 162.8,113.6 163.8,116.7 164.8,116.8 165.8,118.6 166.8,118.1 167.8,119.1 168.8,120.2 169.8,124.0 170.8,124.9 171.8,127.3 172.8,127.2 173.8,126.1 174.8,128.6 175.8,130.4 176.8,129.9 177.8,129.7 178.8,131.3 179.8,132.4 180.8,131.8 181.8,134.5 182.8,134.1 183.8,132.1 184.8,132.6 185.8,129.4 186.8,126.4 187.8,134.8 188.8,138.0 189.8,139.3 190.8,136.9 191.8,137.0 192.8,137.2 193.8,137.1 194.8,133.2 195.8,129.9 196.8,128.3 197.8,131.5 198.8,129.5 199.8,130.7 200.8,129.1 201.8,133.7 202.8,132.6 203.8,134.0 204.8,132.7 205.8,138.6 206.8,139.5 207.8,141.5 208.8,140.3 209.8,142.4 210.8,138.9 211.8,141.5 212.8,141.4 213.8,141.5 214.8,140.0 215.8,140.0 216.8,139.9 217.8,141.3 218.8,135.7 219.8,133.0 220.8,133.5 221.8,135.6 222.8,135.1 223.8,133.5 224.8,135.8 225.8,137.1 226.8,133.5 227.8,136.6 228.8,141.2 229.8,141.7 230.8,143.2 231.8,146.2 232.8,147.2 233.8,151.4 234.8,146.0 235.8,147.2 236.8,146.5 237.8,143.2 238.8,137.3 239.8,140.0 240.8,138.4 241.8,136.9 242.8,143.0 243.8,145.9 244.8,141.2 245.8,141.0 246.8,135.6 247.8,135.3 248.8,133.9 249.8,133.5 250.8,140.7 251.8,142.1 252.8,144.4 253.8,147.0 254.8,147.3 255.8,147.4 256.8,145.8 257.8,148.0 258.8,144.1 259.8,142.5 260.8,137.8 261.8,138.5 262.8,138.9 263.8,136.0 264.8,137.4 265.8,138.9 266.8,138.2 267.8,136.7 268.8,141.5 269.8,141.7 270.8,137.9 271.8,137.0 272.8,138.8 273.8,135.9 274.8,134.5 275.8,136.4 276.8,139.5 277.8,138.8 278.8,138.6 279.8,138.2 280.8,140.1 281.8,139.1 282.8,138.9 283.8,143.0 284.8,142.7 285.8,144.7 286.8,142.9 287.8,145.5 288.8,143.8 289.8,145.0 290.8,146.8 291.8,149.1 292.8,150.0 293.8,145.5 294.8,148.4 295.8,149.6 296.8,150.6 297.8,154.0 298.8,151.8 299.8,152.0 300.8,149.9 301.8,149.5 302.8,149.2 303.8,151.6 304.8,151.5 305.8,152.7 306.8,153.6 307.8,156.0 308.8,152.7 309.8,153.1 310.8,155.4 311.8,157.7 312.8,161.3 313.8,161.4 314.8,162.4 315.8,163.8 316.8,164.1 317.8,168.8 318.8,166.0 319.8,169.0 320.8,169.0 321.8,168.8 322.8,171.8 323.8,170.3 324.8,173.1 325.8,174.6 326.8,171.2 327.8,174.9 328.8,178.0 329.8,177.0 330.8,173.7 331.8,175.9 332.8,177.6 333.8,175.3 334.8,175.6 335.8,177.3 336.8,174.0 337.8,178.8 338.8,179.1 339.8,182.2 340.8,184.5 341.8,181.5 342.8,181.5 343.8,179.3 344.8,181.0 345.8,182.9 346.8,183.1 347.8,185.9 348.8,184.2 349.8,181.7 350.8,178.8 351.8,179.2 352.8,178.3 353.8,184.5 354.8,187.9 355.8,189.6 356.8,191.9 357.8,190.8 358.8,190.3 359.8,187.4 360.8,186.6 361.8,187.6 362.8,187.7 363.8,186.8 364.8,187.9 365.8,188.1 366.8,188.4 367.8,182.9 368.8,186.0 369.8,184.5 370.8,183.9 371.8,185.0 372.8,183.5 373.8,190.1 374.8,192.0 375.8,192.1 376.8,193.4 377.8,188.5 378.8,191.6 379.8,194.2 380.8,193.5 381.8,191.8 382.8,190.3 383.8,188.6 384.8,189.8 385.8,185.3 386.8,182.0 387.8,183.8 388.8,185.5 389.8,183.5 390.8,184.0 391.8,185.2 392.8,184.5 393.8,180.5 394.8,184.5 395.8,184.1 396.8,185.3 397.8,183.4 398.8,181.4 399.8,179.5 400.8,179.0 401.8,180.6 402.8,181.3 403.8,177.8 404.8,179.8 405.8,178.6 406.8,181.0 407.8,188.6 408.8,189.9 409.8,189.3 410.8,186.8 411.8,192.3 412.8,194.9 413.8,195.0 414.8,193.4 415.8,192.6 416.8,195.9 417.8,197.4 418.8,199.5 419.8,197.7 420.8,196.0 421.8,194.7 422.8,194.4 423.8,196.5 424.8,195.0 425.8,194.1 426.8,195.3 427.8,202.6 428.8,204.1 429.8,209.5 430.8,208.4 431.8,209.7 432.8,212.3 433.8,215.4 434.8,215.2 435.8,215.0 436.8,216.8 437.8,220.8 438.8,225.0 439.8,224.6 440.8,231.5 441.8,231.2 442.8,236.4 443.8,238.0 444.8,236.5 445.8,241.7 446.8,244.8 447.8,246.3 448.8,245.1 449.8,244.5 450.8,247.3 451.8,246.7 452.8,251.5 453.8,250.7 454.8,257.6 455.8,259.5 456.8,262.2 457.8,265.7 458.8,260.8 459.8,261.4 460.8,261.4 461.8,263.6 462.8,268.7 463.8,273.8 464.8,275.6 465.8,274.3 466.8,275.5 467.8,282.9 468.8,281.6 469.8,282.6 470.8,283.8 471.8,286.5 472.8,287.2 473.8,286.3 474.8,288.9 475.8,290.0 476.8,292.4 477.8,285.9 478.8,284.8 479.8,284.2 480.8,287.7 481.8,288.3 482.8,289.6 483.8,291.4 484.8,291.2 485.8,291.7 486.8,289.9 487.8,292.7 488.8,288.4 489.8,289.2 490.8,286.2 491.8,287.3 492.8,289.6 493.8,287.7 494.8,290.8 495.8,292.8 496.8,293.1 497.8,293.4 498.8,295.9 499.8,293.9 500.8,295.6 501.8,295.7 502.8,294.4 503.8,296.1 504.8,296.1 505.8,296.7 506.8,296.9 507.8,295.3 508.8,298.7 509.8,301.1 510.8,297.2 511.8,295.1 512.8,296.6 513.8,299.4 514.8,300.4 515.8,303.6 516.8,300.9 516.8,307.6 515.8,309.4 514.8,307.2 513.8,305.4 512.8,306.6 511.8,310.7 510.8,309.1 509.8,314.8 508.8,316.3 507.8,318.5 506.8,323.9 505.8,325.0 504.8,325.1 503.8,328.0 502.8,325.5 501.8,326.9 500.8,327.6 499.8,330.3 498.8,332.2 497.8,333.1 496.8,334.9 495.8,335.6 494.8,335.1 493.8,336.7 492.8,334.9 491.8,337.8 490.8,339.7 489.8,340.7 488.8,340.4 487.8,338.3 486.8,335.6 485.8,340.2 484.8,341.3 483.8,337.0 482.8,337.0 481.8,337.2 480.8,339.1 479.8,339.8 478.8,338.4 477.8,339.0 476.8,342.6 475.8,341.1 474.8,341.5 473.8,337.4 472.8,336.9 471.8,332.5 470.8,332.0 469.8,330.4 468.8,324.0 467.8,326.2 466.8,328.5 465.8,323.1 464.8,319.4 463.8,314.3 462.8,309.1 461.8,308.6 460.8,307.3 459.8,303.4 458.8,303.1 457.8,300.3 456.8,296.9 455.8,296.6 454.8,292.5 453.8,290.2 452.8,282.9 451.8,278.1 450.8,279.7 449.8,279.7 448.8,274.6 447.8,275.4 446.8,270.3 445.8,265.3 444.8,270.4 443.8,270.7 442.8,270.4 441.8,268.2 440.8,270.0 439.8,265.7 438.8,267.7 437.8,264.4 436.8,263.7 435.8,259.6 434.8,263.2 433.8,259.2 432.8,258.2 431.8,251.7 430.8,253.7 429.8,253.9 428.8,253.8 427.8,252.1 426.8,248.7 425.8,250.3 424.8,248.1 423.8,248.1 422.8,244.2 421.8,240.1 420.8,242.3 419.8,239.6 418.8,240.1 417.8,239.9 416.8,236.5 415.8,240.8 414.8,237.9 413.8,238.2 412.8,239.3 411.8,232.9 410.8,231.0 409.8,225.8 408.8,224.6 407.8,226.4 406.8,220.9 405.8,221.9 404.8,224.7 403.8,225.9 402.8,223.3 401.8,218.1 400.8,214.8 399.8,212.5 398.8,210.3 397.8,210.2 396.8,211.1 395.8,208.8 394.8,206.7 393.8,207.1 392.8,209.2 391.8,207.4 390.8,204.7 389.8,204.5 388.8,205.0 387.8,205.2 386.8,210.7 385.8,208.9 384.8,214.4 383.8,207.9 382.8,207.2 381.8,206.3 380.8,206.8 379.8,207.4 378.8,206.8 377.8,209.3 376.8,210.2 375.8,208.2 374.8,210.9 373.8,209.6 372.8,214.7 371.8,213.4 370.8,215.4 369.8,217.9 368.8,212.8 367.8,211.3 366.8,211.4 365.8,209.5 364.8,207.6 363.8,205.6 362.8,206.3 361.8,206.7 360.8,209.7 359.8,214.6 358.8,213.5 357.8,216.4 356.8,217.4 355.8,221.2 354.8,223.2 353.8,219.3 352.8,218.9 351.8,217.8 350.8,216.3 349.8,220.0 348.8,218.9 347.8,215.5 346.8,218.4 345.8,220.7 344.8,219.6 343.8,219.7 342.8,223.1 341.8,222.0 340.8,222.9 339.8,221.5 338.8,222.5 337.8,220.5 336.8,215.2 335.8,215.3 334.8,217.8 333.8,221.4 332.8,222.8 331.8,221.9 330.8,221.2 329.8,219.0 328.8,218.9 327.8,217.0 326.8,222.6 325.8,221.3 324.8,223.2 323.8,225.8 322.8,230.3 321.8,224.8 320.8,221.0 319.8,219.9 318.8,214.0 317.8,215.6 316.8,219.9 315.8,215.5 314.8,215.7 313.8,216.9 312.8,217.9 311.8,216.4 310.8,215.2 309.8,212.2 308.8,207.5 307.8,208.7 306.8,208.1 305.8,214.3 304.8,217.5 303.8,215.6 302.8,216.7 301.8,212.5 300.8,215.1 299.8,216.6 298.8,219.1 297.8,215.7 296.8,211.2 295.8,213.3 294.8,209.7 293.8,208.7 292.8,211.2 291.8,211.9 290.8,209.8 289.8,216.0 288.8,214.9 287.8,213.6 286.8,211.6 285.8,207.3 284.8,208.6 283.8,205.0 282.8,209.2 281.8,208.2 280.8,203.3 279.8,198.6 278.8,202.1 277.8,198.7 276.8,195.3 275.8,194.4 274.8,195.8 273.8,196.3 272.8,200.7 271.8,200.0 270.8,201.3 269.8,198.2 268.8,199.1 267.8,199.9 266.8,196.5 265.8,199.9 264.8,197.9 263.8,200.7 262.8,197.3 261.8,200.1 260.8,200.0 259.8,203.1 258.8,205.9 257.8,208.9 256.8,210.7 255.8,209.6 254.8,210.9 253.8,209.9 252.8,207.7 251.8,207.0 250.8,207.1 249.8,199.8 248.8,198.9 247.8,200.8 246.8,204.2 245.8,206.9 244.8,210.0 243.8,206.1 242.8,207.6 241.8,207.9 240.8,207.7 239.8,212.7 238.8,210.3 237.8,205.6 236.8,205.1 235.8,211.0 234.8,213.0 233.8,211.7 232.8,214.3 231.8,210.8 230.8,208.2 229.8,205.9 228.8,207.3 227.8,206.4 226.8,203.3 225.8,200.7 224.8,200.5 223.8,200.8 222.8,203.6 221.8,205.0 220.8,201.8 219.8,200.5 218.8,202.4 217.8,205.4 216.8,207.4 215.8,209.6 214.8,205.0 213.8,207.9 212.8,211.4 211.8,209.2 210.8,208.2 209.8,209.9 208.8,210.5 207.8,204.0 206.8,205.7 205.8,204.5 204.8,203.8 203.8,202.2 202.8,200.9 201.8,198.2 200.8,197.4 199.8,196.1 198.8,198.3 197.8,196.9 196.8,195.2 195.8,194.2 194.8,198.7 193.8,196.7 192.8,197.0 191.8,194.8 190.8,196.7 189.8,191.4 188.8,189.3 187.8,187.2 186.8,187.8 185.8,188.9 184.8,190.5 183.8,187.8 182.8,187.6 181.8,184.1 180.8,175.9 179.8,176.2 178.8,178.8 177.8,180.9 176.8,185.7 175.8,184.0 174.8,180.7 173.8,181.0 172.8,183.6 171.8,183.7 170.8,180.1 169.8,177.0 168.8,171.6 167.8,172.4 166.8,170.8 165.8,171.2 164.8,173.7 163.8,174.8 162.8,175.0 161.8,174.7 160.8,177.6 159.8,180.0 158.8,174.9 157.8,176.4 156.8,173.1 155.8,170.9 154.8,171.6 153.8,170.7 152.8,177.1 151.8,176.3 150.8,172.9 149.8,177.3 148.8,180.4 147.8,177.2 146.8,181.4 145.8,185.9 144.8,182.0 143.8,179.4 142.8,181.0 141.8,183.0 140.8,182.7 139.8,180.2 138.8,180.2 137.8,179.4 136.8,172.9 135.8,171.9 134.8,173.0 133.8,172.9 132.8,174.3 131.8,173.0 130.8,175.1 129.8,176.2 128.8,174.5 127.8,176.0 126.8,179.0 125.8,179.8 124.8,183.1 123.8,180.6" fill="#00a03c" fill-opacity="0.025"/>
<polygon points="544.8,242.0 545.8,237.6 546.8,234.6 547.8,228.5 548.8,225.6 549.8,223.2 550.8,218.5 551.8,217.1 552.8,214.3 553.8,209.9 554.8,209.8 555.8,206.5 556.8,207.4 557.8,206.2 558.8,201.5 559.8,198.5 560.8,194.2 561.8,195.8 562.8,195.6 563.8,193.6 564.8,194.7 565.8,190.0 566.8,191.5 567.8,185.1 568.8,184.9 569.8,183.4 570.8,184.4 571.8,181.8 572.8,176.5 573.8,176.2 574.8,175.3 575.8,175.1 576.8,174.8 577.8,166.3 578.8,165.6 579.8,160.1 580.8,158.8 581.8,160.6 582.8,158.9 583.8,165.2 584.8,161.7 585.8,160.5 586.8,152.5 587.8,153.0 588.8,153.2 589.8,151.6 590.8,151.0 591.8,149.6 592.8,153.3 593.8,151.6 594.8,150.1 595.8,153.8 596.8,153.6 597.8,156.2 598.8,160.7 599.8,161.5 600.8,164.9 601.8,165.0 602.8,167.3 603.8,173.1 604.8,171.3 605.8,172.0 606.8,173.6 607.8,174.3 608.8,177.1 609.8,177.3 610.8,179.3 611.8,181.5 612.8,185.5 613.8,186.4 614.8,192.3 615.8,193.7 616.8,202.9 617.8,207.4 618.8,210.1 619.8,212.8 620.8,214.4 621.8,215.6 622.8,217.0 623.8,222.3 624.8,221.3 625.8,221.9 626.8,222.7 627.8,222.6 628.8,223.5 629.8,225.4 630.8,228.5 631.8,228.5 632.8,231.4 633.8,232.8 634.8,234.3 635.8,232.5 636.8,237.4 637.8,235.8 638.8,236.0 639.8,240.8 640.8,244.1 641.8,249.3 642.8,250.9 643.8,252.7 644.8,253.9 645.8,255.3 646.8,250.8 647.8,252.1 648.8,254.2 649.8,249.4 650.8,247.7 651.8,247.6 652.8,252.4 653.8,253.7 654.8,257.9 655.8,258.7 656.8,259.3 657.8,265.2 658.8,265.2 659.8,269.9 660.8,271.6 661.8,275.8 662.8,276.5 663.8,276.3 664.8,279.4 665.8,274.5 666.8,275.0 667.8,275.6 668.8,275.3 669.8,277.9 670.8,279.6 671.8,279.4 672.8,279.5 673.8,281.2 674.8,278.8 675.8,280.3 676.8,282.6 677.8,281.6 678.8,282.2 679.8,283.8 680.8,281.8 681.8,282.2 682.8,276.6 683.8,276.8 684.8,281.9 685.8,279.1 686.8,277.0 687.8,282.8 688.8,281.4 689.8,283.0 690.8,284.1 691.8,283.0 692.8,284.8 693.8,284.0 694.8,281.8 695.8,280.9 696.8,281.0 697.8,278.5 698.8,278.4 699.8,279.7 700.8,283.8 701.8,285.3 702.8,285.3 703.8,286.5 704.8,290.8 705.8,288.1 706.8,287.3 707.8,284.4 708.8,283.6 709.8,284.3 710.8,288.4 711.8,288.4 712.8,289.3 713.8,285.7 714.8,286.2 715.8,281.9 716.8,281.0 717.8,280.9 718.8,286.4 719.8,288.0 720.8,280.3 721.8,275.4 722.8,276.9 723.8,278.5 724.8,280.1 725.8,276.5 726.8,278.8 727.8,279.4 728.8,278.2 729.8,277.3 730.8,281.6 731.8,283.3 732.8,277.4 733.8,276.3 734.8,274.0 735.8,280.6 736.8,281.9 737.8,283.5 738.8,283.1 739.8,281.5 740.8,283.8 741.8,283.7 742.8,285.9 743.8,287.5 744.8,287.2 745.8,287.4 746.8,288.9 747.8,290.3 748.8,292.1 749.8,294.3 750.8,293.1 751.8,289.2 752.8,287.2 753.8,291.2 754.8,292.6 755.8,291.2 756.8,292.0 757.8,293.6 758.8,299.6 759.8,299.4 760.8,299.9 761.8,299.1 762.8,302.2 763.8,302.8 764.8,300.0 765.8,301.3 766.8,301.5 767.8,297.4 768.8,295.5 769.8,294.9 770.8,295.3 771.8,296.9 772.8,293.4 773.8,296.8 774.8,299.1 775.8,299.4 776.8,299.3 777.8,299.4 778.8,299.0 779.8,297.6 780.8,302.4 781.8,301.4 782.8,304.3 783.8,300.7 784.8,297.0 785.8,298.1 786.8,300.5 787.8,303.1 788.8,304.5 789.8,306.7 790.8,307.0 791.8,307.4 792.8,303.3 793.8,302.4 794.8,305.2 795.8,305.0 796.8,300.5 797.8,303.3 798.8,302.9 799.8,302.3 800.8,301.0 801.8,302.0 802.8,299.3 803.6,298.3 803.6,375.1 802.8,373.7 801.8,369.6 800.8,372.0 799.8,368.5 798.8,366.9 797.8,365.2 796.8,369.1 795.8,368.3 794.8,363.9 793.8,362.5 792.8,363.6 791.8,359.0 790.8,363.3 789.8,361.7 788.8,361.5 787.8,362.4 786.8,367.8 785.8,365.6 784.8,368.0 783.8,369.4 782.8,371.3 781.8,366.9 780.8,367.1 779.8,370.2 778.8,372.6 777.8,370.0 776.8,369.2 775.8,373.1 774.8,368.1 773.8,364.1 772.8,363.7 771.8,364.6 770.8,368.9 769.8,371.2 768.8,371.8 767.8,369.2 766.8,370.8 765.8,371.3 764.8,372.2 763.8,372.5 762.8,370.7 761.8,369.7 760.8,365.8 759.8,368.4 758.8,369.3 757.8,362.7 756.8,360.5 755.8,360.2 754.8,359.5 753.8,356.4 752.8,359.5 751.8,359.3 750.8,359.1 749.8,356.9 748.8,356.3 747.8,356.7 746.8,357.0 745.8,356.7 744.8,357.9 743.8,351.7 742.8,352.3 741.8,351.0 740.8,350.6 739.8,354.4 738.8,351.9 737.8,352.2 736.8,346.3 735.8,350.0 734.8,348.7 733.8,349.6 732.8,348.9 731.8,346.1 730.8,346.9 729.8,345.7 728.8,346.6 727.8,347.3 726.8,343.3 725.8,340.4 724.8,342.1 723.8,340.0 722.8,336.1 721.8,340.0 720.8,338.1 719.8,340.2 718.8,342.1 717.8,341.4 716.8,338.7 715.8,340.6 714.8,339.9 713.8,339.8 712.8,341.1 711.8,343.2 710.8,342.4 709.8,338.3 708.8,336.4 707.8,338.0 706.8,335.7 705.8,334.8 704.8,338.4 703.8,334.4 702.8,330.8 701.8,332.8 700.8,331.1 699.8,327.6 698.8,328.6 697.8,329.7 696.8,333.1 695.8,331.7 694.8,325.9 693.8,319.7 692.8,318.2 691.8,316.0 690.8,316.7 689.8,318.3 688.8,320.7 687.8,320.2 686.8,317.9 685.8,312.8 684.8,313.3 683.8,314.9 682.8,309.5 681.8,311.2 680.8,308.7 679.8,311.4 678.8,306.7 677.8,306.6 676.8,305.7 675.8,300.5 674.8,302.8 673.8,301.8 672.8,299.3 671.8,295.7 670.8,299.3 669.8,296.4 668.8,299.2 667.8,295.8 666.8,292.6 665.8,292.2 664.8,292.0 663.8,290.5 662.8,290.2 661.8,287.3 660.8,287.3 659.8,284.9 658.8,285.6 657.8,285.4 656.8,281.7 655.8,277.9 654.8,275.7 653.8,274.0 652.8,269.9 651.8,271.2 650.8,268.8 649.8,267.9 648.8,264.8 647.8,260.4 646.8,260.4 645.8,261.3 644.8,260.3 643.8,263.3 642.8,260.8 641.8,259.2 640.8,253.5 639.8,249.9 638.8,253.0 637.8,248.3 636.8,247.9 635.8,244.0 634.8,238.8 633.8,239.4 632.8,239.2 631.8,235.9 630.8,236.5 629.8,236.0 628.8,234.1 627.8,237.6 626.8,238.1 625.8,238.1 624.8,239.3 623.8,237.1 622.8,238.4 621.8,238.5 620.8,236.7 619.8,234.0 618.8,234.8 617.8,230.9 616.8,234.0 615.8,231.6 614.8,231.9 613.8,234.9 612.8,231.4 611.8,227.7 610.8,221.0 609.8,224.3 608.8,226.7 607.8,228.1 606.8,225.4 605.8,228.2 604.8,224.5 603.8,222.2 602.8,222.7 601.8,225.9 600.8,224.3 599.8,228.7 598.8,230.2 597.8,236.8 596.8,237.4 595.8,240.1 594.8,236.9 593.8,235.3 592.8,234.9 591.8,233.5 590.8,232.0 589.8,231.7 588.8,233.4 587.8,233.8 586.8,234.4 585.8,230.9 584.8,228.2 583.8,230.5 582.8,230.6 581.8,236.4 580.8,235.6 579.8,239.6 578.8,239.4 577.8,233.3 576.8,233.0 575.8,230.7 574.8,229.6 573.8,234.2 572.8,237.2 571.8,241.4 570.8,240.0 569.8,237.3 568.8,234.7 567.8,235.9 566.8,239.6 565.8,237.6 564.8,237.0 563.8,240.0 562.8,239.3 561.8,233.1 560.8,234.4 559.8,234.8 558.8,232.9 557.8,230.8 556.8,234.8 555.8,236.7 554.8,237.9 553.8,239.4 552.8,241.9 551.8,242.2 550.8,238.4 549.8,244.1 548.8,242.0 547.8,238.3 546.8,241.4 545.8,243.1 544.8,243.0" fill="#00a03c" fill-opacity="0.025"/>
<line x1="309.1" y1="138.1" x2="309.1" y2="420.1" stroke="#000" stroke-width="1.6" />
<polyline points="123.8,137.4 124.8,138.7 125.8,138.5 126.8,136.3 127.8,135.5 128.8,134.5 129.8,133.5 130.8,132.5 131.8,128.9 132.8,125.8 133.8,128.0 134.8,130.1 135.8,133.4 136.8,133.5 137.8,134.7 138.8,136.6 139.8,136.3 140.8,138.7 141.8,138.9 142.8,135.7 143.8,134.3 144.8,137.3 145.8,140.3 146.8,138.2 147.8,135.9 148.8,134.8 149.8,132.3 150.8,130.9 151.8,130.2 152.8,129.4 153.8,127.5 154.8,128.9 155.8,130.3 156.8,132.7 157.8,134.2 158.8,134.8 159.8,138.7 160.8,138.4 161.8,136.4 162.8,133.3 163.8,134.0 164.8,133.4 165.8,130.0 166.8,129.9 167.8,132.2 168.8,134.0 169.8,136.4 170.8,136.4 171.8,138.4 172.8,139.6 173.8,139.5 174.8,140.5 175.8,142.3 176.8,143.5 177.8,141.9 178.8,140.7 179.8,137.7 180.8,136.3 181.8,142.1 182.8,146.4 183.8,150.0 184.8,149.4 185.8,148.6 186.8,147.3 187.8,148.6 188.8,150.3 189.8,152.4 190.8,155.4 191.8,156.6 192.8,157.4 193.8,158.9 194.8,158.5 195.8,157.0 196.8,158.0 197.8,159.2 198.8,158.6 199.8,159.0 200.8,159.1 201.8,160.8 202.8,163.5 203.8,163.6 204.8,162.7 205.8,163.2 206.8,162.0 207.8,164.1 208.8,167.6 209.8,169.1 210.8,169.4 211.8,167.9 212.8,167.8 213.8,168.9 214.8,166.5 215.8,168.4 216.8,169.8 217.8,171.0 218.8,170.5 219.8,169.7 220.8,167.8 221.8,166.1 222.8,164.0 223.8,160.9 224.8,161.2 225.8,161.5 226.8,161.2 227.8,162.6 228.8,163.7 229.8,165.1 230.8,166.9 231.8,169.4 232.8,172.0 233.8,171.1 234.8,169.0 235.8,165.6 236.8,163.6 237.8,165.2 238.8,168.8 239.8,172.7 240.8,176.4 241.8,179.7 242.8,183.0 243.8,184.1 244.8,183.6 245.8,182.1 246.8,178.6 247.8,175.9 248.8,174.6 249.8,176.3 250.8,175.2 251.8,174.1 252.8,176.2 253.8,176.7 254.8,176.4 255.8,177.0 256.8,179.5 257.8,180.2 258.8,180.8 259.8,181.1 260.8,179.8 261.8,178.2 262.8,177.2 263.8,175.5 264.8,176.9 265.8,178.3 266.8,178.7 267.8,179.0 268.8,182.2 269.8,183.0 270.8,182.7 271.8,184.3 272.8,185.3 273.8,182.2 274.8,180.1 275.8,178.9 276.8,179.7 277.8,177.8 278.8,178.2 279.8,177.8 280.8,178.1 281.8,178.0 282.8,180.9 283.8,182.3 284.8,182.0 285.8,180.9 286.8,181.7 287.8,181.5 288.8,182.0 289.8,181.6 290.8,182.5 291.8,181.2 292.8,181.4 293.8,184.6 294.8,186.5 295.8,186.1 296.8,188.2 297.8,187.9 298.8,191.1 299.8,193.0 300.8,193.7 301.8,194.1 302.8,192.4 303.8,194.4 304.8,192.4 305.8,193.9 306.8,195.0 307.8,194.2 308.8,192.6 309.8,196.1 310.8,199.3 311.8,201.0 312.8,202.2 313.8,203.3 314.8,203.8 315.8,204.1 316.8,206.3 317.8,207.1 318.8,206.6 319.8,206.2 320.8,208.1 321.8,208.1 322.8,209.6 323.8,210.2 324.8,212.9 325.8,215.0 326.8,213.9 327.8,214.5 328.8,214.5 329.8,213.8 330.8,212.9 331.8,213.4 332.8,214.0 333.8,215.8 334.8,216.6 335.8,217.2 336.8,216.1 337.8,218.4 338.8,219.7 339.8,220.2 340.8,222.7 341.8,222.1 342.8,224.0 343.8,222.6 344.8,221.5 345.8,223.3 346.8,221.7 347.8,222.4 348.8,222.0 349.8,222.3 350.8,220.8 351.8,221.1 352.8,221.6 353.8,224.2 354.8,225.2 355.8,227.4 356.8,228.8 357.8,226.9 358.8,227.3 359.8,226.1 360.8,225.3 361.8,225.2 362.8,228.0 363.8,229.4 364.8,228.3 365.8,225.0 366.8,223.3 367.8,222.0 368.8,222.0 369.8,223.1 370.8,223.0 371.8,222.7 372.8,223.4 373.8,226.3 374.8,227.1 375.8,228.6 376.8,227.9 377.8,227.1 378.8,228.5 379.8,229.6 380.8,227.5 381.8,228.8 382.8,227.7 383.8,227.3 384.8,229.3 385.8,226.1 386.8,224.4 387.8,225.3 388.8,223.5 389.8,221.4 390.8,220.1 391.8,219.3 392.8,220.4 393.8,218.9 394.8,220.7 395.8,219.8 396.8,221.2 397.8,221.6 398.8,219.6 399.8,218.3 400.8,219.0 401.8,218.8 402.8,221.0 403.8,218.9 404.8,216.5 405.8,218.3 406.8,220.9 407.8,224.8 408.8,226.2 409.8,226.7 410.8,226.5 411.8,229.8 412.8,232.4 413.8,234.4 414.8,233.2 415.8,233.4 416.8,234.2 417.8,235.6 418.8,234.8 419.8,234.7 420.8,234.4 421.8,232.7 422.8,232.5 423.8,231.5 424.8,232.8 425.8,233.7 426.8,235.7 427.8,240.6 428.8,242.4 429.8,245.0 430.8,246.2 431.8,248.2 432.8,247.9 433.8,247.8 434.8,248.2 435.8,249.0 436.8,252.6 437.8,255.7 438.8,256.4 439.8,259.3 440.8,262.9 441.8,265.5 442.8,268.1 443.8,269.4 444.8,270.4 445.8,272.7 446.8,274.3 447.8,277.3 448.8,278.0 449.8,279.0 450.8,281.6 451.8,282.3 452.8,284.9 453.8,285.7 454.8,287.9 455.8,288.2 456.8,291.9 457.8,294.4 458.8,291.6 459.8,292.6 460.8,291.9 461.8,295.8 462.8,299.8 463.8,302.7 464.8,303.7 465.8,304.8 466.8,307.6 467.8,311.2 468.8,312.0 469.8,314.7 470.8,313.9 471.8,315.8 472.8,313.7 473.8,313.5 474.8,316.2 475.8,317.9 476.8,316.8 477.8,314.5 478.8,312.6 479.8,310.8 480.8,309.8 481.8,311.0 482.8,311.3 483.8,313.6 484.8,315.2 485.8,313.2 486.8,310.9 487.8,312.3 488.8,313.4 489.8,313.3 490.8,313.2 491.8,312.1 492.8,309.2 493.8,307.0 494.8,307.4 495.8,307.8 496.8,307.2 497.8,307.2 498.8,305.8 499.8,304.6 500.8,301.5 501.8,300.3 502.8,298.6 503.8,297.3 504.8,296.3 505.8,296.9 506.8,294.0 507.8,289.3 508.8,286.6 509.8,284.0 510.8,281.0 511.8,280.0 512.8,278.0 513.8,276.7 514.8,274.8 515.8,273.8 516.8,272.1 517.8,268.0 518.8,265.5 519.8,263.2 520.8,260.4 521.8,258.5 522.8,256.7 523.8,255.5 524.8,253.7 525.8,250.4 526.8,249.6 527.8,246.2 528.8,241.2 529.8,238.5 530.8,237.2 531.8,232.6 532.8,230.6 533.8,228.3 534.8,224.5 535.8,223.7 536.8,223.2 537.8,220.1 538.8,217.9 539.8,215.6 540.8,213.3 541.8,212.5 542.8,210.5 543.8,207.5 544.8,203.4 545.8,198.9 546.8,195.4 547.8,193.7 548.8,194.2 549.8,195.0 550.8,193.4 551.8,194.9 552.8,196.0 553.8,194.7 554.8,194.2 555.8,192.4 556.8,192.3 557.8,189.2 558.8,191.3 559.8,192.0 560.8,191.7 561.8,190.7 562.8,192.4 563.8,193.7 564.8,190.2 565.8,189.8 566.8,189.2 567.8,189.0 568.8,189.0 569.8,188.1 570.8,188.9 571.8,189.4 572.8,187.4 573.8,186.6 574.8,184.4 575.8,182.1 576.8,183.9 577.8,185.3 578.8,190.5 579.8,193.7 580.8,189.6 581.8,188.1 582.8,186.3 583.8,185.1 584.8,185.0 585.8,184.9 586.8,187.0 587.8,187.1 588.8,188.4 589.8,190.3 590.8,189.6 591.8,191.4 592.8,192.9 593.8,195.4 594.8,195.3 595.8,196.7 596.8,199.8 597.8,201.2 598.8,203.6 599.8,204.5 600.8,207.3 601.8,209.9 602.8,212.1 603.8,214.5 604.8,214.8 605.8,215.4 606.8,217.1 607.8,218.0 608.8,218.1 609.8,219.9 610.8,222.6 611.8,223.8 612.8,227.6 613.8,228.2 614.8,231.6 615.8,233.7 616.8,238.9 617.8,243.1 618.8,246.3 619.8,246.2 620.8,248.5 621.8,251.6 622.8,253.9 623.8,256.9 624.8,259.2 625.8,259.6 626.8,258.0 627.8,258.6 628.8,259.2 629.8,260.6 630.8,262.4 631.8,265.5 632.8,267.6 633.8,268.8 634.8,270.5 635.8,270.1 636.8,269.4 637.8,268.7 638.8,269.9 639.8,272.2 640.8,275.2 641.8,277.9 642.8,279.2 643.8,282.0 644.8,281.9 645.8,283.6 646.8,283.4 647.8,284.6 648.8,286.4 649.8,284.2 650.8,281.3 651.8,283.3 652.8,286.9 653.8,288.7 654.8,288.5 655.8,290.3 656.8,292.5 657.8,294.6 658.8,298.2 659.8,300.0 660.8,302.1 661.8,304.6 662.8,306.5 663.8,307.6 664.8,307.9 665.8,307.0 666.8,306.3 667.8,306.9 668.8,307.1 669.8,308.4 670.8,309.0 671.8,310.5 672.8,310.9 673.8,310.9 674.8,310.5 675.8,310.2 676.8,309.9 677.8,309.0 678.8,308.4 679.8,310.0 680.8,311.8 681.8,311.8 682.8,309.2 683.8,309.9 684.8,310.8 685.8,311.9 686.8,311.4 687.8,312.5 688.8,314.0 689.8,314.0 690.8,314.6 691.8,316.3 692.8,314.9 693.8,314.3 694.8,314.8 695.8,313.9 696.8,312.3 697.8,312.1 698.8,312.2 699.8,312.2 700.8,312.8 701.8,315.8 702.8,315.5 703.8,315.0 704.8,317.6 705.8,317.1 706.8,314.9 707.8,313.4 708.8,314.7 709.8,315.3 710.8,318.1 711.8,319.6 712.8,320.3 713.8,318.8 714.8,318.9 715.8,317.5 716.8,317.7 717.8,316.9 718.8,319.0 719.8,318.2 720.8,314.3 721.8,310.6 722.8,311.8 723.8,311.6 724.8,311.9 725.8,310.2 726.8,312.8 727.8,313.8 728.8,313.1 729.8,313.2 730.8,314.6 731.8,315.2 732.8,313.6 733.8,314.1 734.8,312.5 735.8,314.2 736.8,313.3 737.8,315.2 738.8,315.9 739.8,316.3 740.8,316.2 741.8,317.7 742.8,317.8 743.8,318.4 744.8,321.4 745.8,322.4 746.8,324.8 747.8,325.1 748.8,327.0 749.8,327.6 750.8,326.5 751.8,325.1 752.8,325.0 753.8,325.2 754.8,324.9 755.8,327.1 756.8,328.5 757.8,331.4 758.8,334.5 759.8,334.2 760.8,333.6 761.8,335.8 762.8,337.6 763.8,339.3 764.8,339.3 765.8,337.8 766.8,337.9 767.8,335.2 768.8,335.0 769.8,332.2 770.8,331.2 771.8,330.3 772.8,330.5 773.8,330.7 774.8,331.5 775.8,334.1 776.8,334.6 777.8,335.6 778.8,334.3 779.8,335.1 780.8,334.1 781.8,333.7 782.8,334.0 783.8,334.1 784.8,330.7 785.8,331.2 786.8,331.3 787.8,327.9 788.8,325.4 789.8,323.8 790.8,323.6 791.8,321.3 792.8,323.4 793.8,324.5 794.8,323.7 795.8,327.2 796.8,327.0 797.8,328.2 798.8,331.3 799.8,331.0 800.8,332.4 801.8,332.8 802.8,335.1 803.6,337.4" fill="none" stroke="#CD2626" stroke-width="3.8" stroke-linejoin="round" stroke-linecap="butt" />
<polyline points="123.8,146.1 124.8,146.1 125.8,141.9 126.8,138.9 127.8,139.1 128.8,139.2 129.8,138.8 130.8,137.2 131.8,137.0 132.8,136.9 133.8,136.6 134.8,135.0 135.8,137.1 136.8,139.1 137.8,142.0 138.8,144.3 139.8,145.8 140.8,145.5 141.8,145.6 142.8,146.5 143.8,147.1 144.8,148.4 145.8,151.8 146.8,154.2 147.8,155.7 148.8,156.4 149.8,154.9 150.8,153.7 151.8,151.3 152.8,148.6 153.8,147.6 154.8,145.6 155.8,144.9 156.8,145.3 157.8,143.7 158.8,141.9 159.8,144.9 160.8,147.2 161.8,149.3 162.8,151.9 163.8,153.8 164.8,154.4 165.8,152.7 166.8,153.8 167.8,154.2 168.8,153.3 169.8,156.2 170.8,158.7 171.8,160.3 172.8,161.1 173.8,161.3 174.8,163.2 175.8,163.0 176.8,163.8 177.8,162.6 178.8,163.8 179.8,164.4 180.8,164.6 181.8,165.9 182.8,168.4 183.8,169.9 184.8,168.4 185.8,166.4 186.8,165.3 187.8,169.2 188.8,170.7 189.8,175.3 190.8,174.8 191.8,174.6 192.8,171.7 193.8,171.5 194.8,170.5 195.8,168.8 196.8,167.5 197.8,167.0 198.8,167.3 199.8,166.7 200.8,166.3 201.8,167.8 202.8,170.6 203.8,171.5 204.8,170.7 205.8,173.7 206.8,175.7 207.8,178.1 208.8,177.0 209.8,177.8 210.8,175.9 211.8,176.9 212.8,175.8 213.8,174.5 214.8,175.7 215.8,173.3 216.8,172.9 217.8,173.0 218.8,170.5 219.8,168.4 220.8,169.6 221.8,168.7 222.8,169.0 223.8,167.3 224.8,167.9 225.8,167.7 226.8,169.6 227.8,169.9 228.8,174.2 229.8,174.3 230.8,177.6 231.8,178.2 232.8,180.5 233.8,184.6 234.8,182.0 235.8,179.5 236.8,178.9 237.8,176.6 238.8,174.2 239.8,175.7 240.8,173.2 241.8,171.0 242.8,171.4 243.8,172.5 244.8,173.6 245.8,172.0 246.8,170.9 247.8,168.8 248.8,168.6 249.8,169.8 250.8,174.1 251.8,176.1 252.8,177.1 253.8,178.3 254.8,178.2 255.8,177.5 256.8,176.4 257.8,176.8 258.8,174.3 259.8,171.4 260.8,170.2 261.8,170.6 262.8,168.5 263.8,168.7 264.8,168.0 265.8,167.7 266.8,166.1 267.8,167.8 268.8,166.1 269.8,166.6 270.8,166.7 271.8,165.7 272.8,167.2 273.8,166.4 274.8,165.3 275.8,164.6 276.8,164.5 277.8,164.5 278.8,166.6 279.8,167.4 280.8,170.5 281.8,172.9 282.8,175.0 283.8,174.3 284.8,174.8 285.8,174.6 286.8,176.0 287.8,177.2 288.8,178.4 289.8,178.8 290.8,177.6 291.8,177.6 292.8,179.0 293.8,178.6 294.8,179.0 295.8,181.1 296.8,181.9 297.8,185.0 298.8,185.6 299.8,183.4 300.8,181.9 301.8,180.8 302.8,181.5 303.8,183.2 304.8,183.7 305.8,180.0 306.8,177.7 307.8,173.9 308.8,175.2 309.8,176.4 310.8,178.1 311.8,178.9 312.8,180.4 313.8,182.2 314.8,182.2 315.8,183.2 316.8,184.5 317.8,184.4 318.8,184.2 319.8,185.6 320.8,185.4 321.8,189.2 322.8,193.1 323.8,190.5 324.8,187.0 325.8,187.1 326.8,186.4 327.8,185.1 328.8,186.9 329.8,186.0 330.8,186.3 331.8,188.5 332.8,188.5 333.8,184.8 334.8,183.5 335.8,183.5 336.8,185.8 337.8,187.0 338.8,189.4 339.8,189.1 340.8,190.1 341.8,191.4 342.8,193.1 343.8,189.9 344.8,189.7 345.8,187.0 346.8,186.7 347.8,185.7 348.8,185.2 349.8,186.2 350.8,185.9 351.8,185.0 352.8,184.8 353.8,184.8 354.8,187.8 355.8,187.5 356.8,185.8 357.8,182.6 358.8,179.3 359.8,179.7 360.8,177.8 361.8,175.0 362.8,172.7 363.8,173.1 364.8,174.2 365.8,176.4 366.8,176.7 367.8,178.4 368.8,179.9 369.8,182.9 370.8,182.6 371.8,182.6 372.8,181.9 373.8,179.1 374.8,176.8 375.8,176.1 376.8,175.1 377.8,175.0 378.8,175.4 379.8,175.0 380.8,173.0 381.8,173.0 382.8,173.1 383.8,175.2 384.8,178.7 385.8,176.6 386.8,176.2 387.8,174.5 388.8,173.1 389.8,174.7 390.8,175.7 391.8,175.9 392.8,174.4 393.8,174.4 394.8,174.4 395.8,176.3 396.8,177.7 397.8,177.9 398.8,178.7 399.8,178.0 400.8,180.7 401.8,185.5 402.8,188.5 403.8,188.9 404.8,190.2 405.8,191.3 406.8,190.5 407.8,192.3 408.8,193.2 409.8,195.7 410.8,197.7 411.8,202.3 412.8,205.5 413.8,206.7 414.8,206.6 415.8,208.3 416.8,206.4 417.8,206.8 418.8,207.7 419.8,205.4 420.8,207.3 421.8,209.0 422.8,210.5 423.8,213.1 424.8,216.0 425.8,217.6 426.8,218.0 427.8,220.4 428.8,220.2 429.8,221.8 430.8,221.3 431.8,221.7 432.8,224.9 433.8,225.7 434.8,228.3 435.8,228.8 436.8,230.7 437.8,234.4 438.8,236.4 439.8,235.8 440.8,236.5 441.8,238.0 442.8,239.6 443.8,239.6 444.8,239.8 445.8,237.0 446.8,239.3 447.8,241.2 448.8,242.7 449.8,245.6 450.8,248.0 451.8,248.1 452.8,252.7 453.8,256.6 454.8,258.5 455.8,263.3 456.8,267.8 457.8,270.7 458.8,276.0 459.8,277.3 460.8,279.7 461.8,281.2 462.8,282.7 463.8,285.8 464.8,288.3 465.8,289.7 466.8,294.2 467.8,294.4 468.8,295.1 469.8,298.1 470.8,301.4 471.8,303.3 472.8,305.4 473.8,306.4 474.8,308.4 475.8,308.5 476.8,308.8 477.8,311.0 478.8,311.5 479.8,312.1 480.8,315.1 481.8,315.2 482.8,318.1 483.8,320.4 484.8,321.1 485.8,320.6 486.8,320.1 487.8,319.6 488.8,317.1 489.8,315.7 490.8,315.6 491.8,317.3 492.8,318.3 493.8,318.2 494.8,318.4 495.8,319.4 496.8,318.0 497.8,319.6 498.8,320.5 499.8,321.4 500.8,323.8 501.8,323.3 502.8,323.5 503.8,322.9 504.8,322.5 505.8,323.0 506.8,320.9 507.8,323.8 508.8,324.3 509.8,325.4 510.8,325.3 511.8,325.1 512.8,325.2 513.8,327.3 514.8,326.0 515.8,327.3 516.8,326.8 517.8,326.6 518.8,326.7 519.8,325.7 520.8,325.7 521.8,326.0 522.8,326.5 523.8,328.3 524.8,326.5 525.8,323.8 526.8,323.1 527.8,318.5 528.8,316.9 529.8,313.3 530.8,310.2 531.8,307.3 532.8,304.2 533.8,302.9 534.8,300.4 535.8,298.4 536.8,295.5 537.8,294.8 538.8,294.9 539.8,292.9 540.8,292.0 541.8,290.4 542.8,286.3 543.8,282.0 544.8,277.6 545.8,273.2 546.8,270.2 547.8,265.5 548.8,261.3 549.8,258.9 550.8,255.8 551.8,255.1 552.8,252.8 553.8,249.8 554.8,248.4 555.8,244.5 556.8,243.0 557.8,241.0 558.8,237.2 559.8,235.2 560.8,234.2 561.8,232.0 562.8,232.0 563.8,232.7 564.8,233.5 565.8,231.2 566.8,229.7 567.8,225.7 568.8,224.7 569.8,223.9 570.8,221.9 571.8,220.2 572.8,217.9 573.8,218.8 574.8,217.4 575.8,216.2 576.8,213.0 577.8,207.3 578.8,206.5 579.8,202.8 580.8,201.7 581.8,202.4 582.8,203.2 583.8,206.2 584.8,206.2 585.8,201.4 586.8,197.2 587.8,197.4 588.8,196.6 589.8,197.6 590.8,195.5 591.8,193.4 592.8,193.8 593.8,193.2 594.8,193.8 595.8,195.6 596.8,192.9 597.8,191.1 598.8,189.0 599.8,186.6 600.8,185.0 601.8,182.7 602.8,182.8 603.8,183.6 604.8,184.4 605.8,186.1 606.8,186.2 607.8,186.5 608.8,187.2 609.8,184.5 610.8,182.9 611.8,186.0 612.8,187.4 613.8,190.1 614.8,189.5 615.8,191.0 616.8,189.8 617.8,185.8 618.8,188.3 619.8,190.3 620.8,191.5 621.8,193.8 622.8,193.4 623.8,193.7 624.8,195.0 625.8,195.1 626.8,197.3 627.8,196.5 628.8,195.7 629.8,194.9 630.8,196.3 631.8,197.1 632.8,197.4 633.8,197.7 634.8,198.4 635.8,200.6 636.8,202.9 637.8,205.8 638.8,210.9 639.8,211.5 640.8,214.8 641.8,216.3 642.8,218.9 643.8,218.9 644.8,220.7 645.8,224.3 646.8,224.3 647.8,224.7 648.8,225.1 649.8,224.8 650.8,225.3 651.8,228.6 652.8,229.2 653.8,234.3 654.8,238.0 655.8,239.6 656.8,244.9 657.8,245.0 658.8,245.1 659.8,245.5 660.8,245.4 661.8,247.6 662.8,248.1 663.8,248.1 664.8,250.1 665.8,250.7 666.8,251.1 667.8,252.6 668.8,254.6 669.8,253.9 670.8,255.3 671.8,255.4 672.8,256.7 673.8,258.3 674.8,260.4 675.8,261.9 676.8,264.2 677.8,266.9 678.8,268.1 679.8,269.6 680.8,270.6 681.8,271.5 682.8,271.7 683.8,274.0 684.8,274.9 685.8,276.5 686.8,280.2 687.8,282.0 688.8,280.4 689.8,279.9 690.8,279.2 691.8,279.0 692.8,279.8 693.8,283.2 694.8,287.8 695.8,291.0 696.8,292.1 697.8,291.3 698.8,290.0 699.8,291.3 700.8,293.7 701.8,292.9 702.8,294.5 703.8,295.8 704.8,296.8 705.8,295.9 706.8,297.8 707.8,298.3 708.8,299.2 709.8,301.5 710.8,303.6 711.8,304.1 712.8,304.0 713.8,303.6 714.8,302.2 715.8,299.8 716.8,300.5 717.8,301.5 718.8,302.3 719.8,302.0 720.8,299.9 721.8,299.2 722.8,298.5 723.8,301.2 724.8,303.1 725.8,303.6 726.8,307.7 727.8,310.9 728.8,311.5 729.8,310.2 730.8,308.9 731.8,309.9 732.8,313.4 733.8,312.8 734.8,310.6 735.8,311.3 736.8,312.3 737.8,312.9 738.8,313.8 739.8,315.6 740.8,316.2 741.8,317.7 742.8,317.4 743.8,319.9 744.8,320.1 745.8,321.8 746.8,320.3 747.8,319.4 748.8,317.9 749.8,316.7 750.8,318.6 751.8,320.6 752.8,317.4 753.8,318.3 754.8,320.6 755.8,323.1 756.8,324.5 757.8,326.5 758.8,328.4 759.8,331.0 760.8,330.8 761.8,328.9 762.8,328.2 763.8,328.7 764.8,332.3 765.8,334.5 766.8,334.5 767.8,333.5 768.8,333.9 769.8,334.7 770.8,333.3 771.8,334.2 772.8,335.0 773.8,336.4 774.8,336.6 775.8,335.6 776.8,335.1 777.8,337.3 778.8,337.0 779.8,337.7 780.8,342.3 781.8,342.8 782.8,344.0 783.8,343.1 784.8,341.9 785.8,342.3 786.8,343.7 787.8,345.8 788.8,346.7 789.8,349.1 790.8,348.0 791.8,348.5 792.8,347.1 793.8,346.1 794.8,346.4 795.8,345.5 796.8,345.1 797.8,346.9 798.8,349.1 799.8,348.5 800.8,347.3 801.8,346.7 802.8,344.0 803.6,339.4" fill="none" stroke="#3A5FCD" stroke-width="3.8" stroke-linejoin="round" stroke-linecap="butt" />
<path d="M123.8,33 V420.1 H802.9" fill="none" stroke="#000" stroke-width="1.6" stroke-linecap="square"/>
<line x1="113" y1="49.8" x2="123.8" y2="49.8" stroke="#333" stroke-width="1.6" />
<text x="103.6" y="61.0" font-size="31.0" fill="#4d4d4d" stroke="#4d4d4d" stroke-width="0.6" text-anchor="end" >0.9</text>
<line x1="113" y1="167.3" x2="123.8" y2="167.3" stroke="#333" stroke-width="1.6" />
<text x="103.6" y="178.5" font-size="31.0" fill="#4d4d4d" stroke="#4d4d4d" stroke-width="0.6" text-anchor="end" >0.7</text>
<line x1="113" y1="284.7" x2="123.8" y2="284.7" stroke="#333" stroke-width="1.6" />
<text x="103.6" y="295.9" font-size="31.0" fill="#4d4d4d" stroke="#4d4d4d" stroke-width="0.6" text-anchor="end" >0.5</text>
<line x1="113" y1="402.2" x2="123.8" y2="402.2" stroke="#333" stroke-width="1.6" />
<text x="103.6" y="413.4" font-size="31.0" fill="#4d4d4d" stroke="#4d4d4d" stroke-width="0.6" text-anchor="end" >0.3</text>
<line x1="154.8" y1="420.1" x2="154.8" y2="430.6" stroke="#333" stroke-width="1.6" />
<text x="154.8" y="462.7" font-size="31.0" fill="#4d4d4d" stroke="#4d4d4d" stroke-width="0.6" text-anchor="middle" >−200</text>
<line x1="309.2" y1="420.1" x2="309.2" y2="430.6" stroke="#333" stroke-width="1.6" />
<text x="309.2" y="462.7" font-size="31.0" fill="#4d4d4d" stroke="#4d4d4d" stroke-width="0.6" text-anchor="middle" >0</text>
<line x1="463.6" y1="420.1" x2="463.6" y2="430.6" stroke="#333" stroke-width="1.6" />
<text x="463.6" y="462.7" font-size="31.0" fill="#4d4d4d" stroke="#4d4d4d" stroke-width="0.6" text-anchor="middle" >200</text>
<line x1="618.1" y1="420.1" x2="618.1" y2="430.6" stroke="#333" stroke-width="1.6" />
<text x="618.1" y="462.7" font-size="31.0" fill="#4d4d4d" stroke="#4d4d4d" stroke-width="0.6" text-anchor="middle" >400</text>
<line x1="772.5" y1="420.1" x2="772.5" y2="430.6" stroke="#333" stroke-width="1.6" />
<text x="772.5" y="462.7" font-size="31.0" fill="#4d4d4d" stroke="#4d4d4d" stroke-width="0.6" text-anchor="middle" >600</text>
<text transform="translate(43.4,226.5) rotate(-90)" font-size="31.5" fill="#000" stroke="#000" stroke-width="0.4" text-anchor="middle" >Saccade Rate (Hz)</text>
<text x="804.2" y="501.6" font-size="31.5" fill="#000" stroke="#000" stroke-width="0.6" text-anchor="end" >Time (ms)</text>
<rect x="396.3" y="59.1" width="39.7" height="23.9" fill="#fdeae3"/>
<line x1="398.1" y1="71.1" x2="434" y2="71.1" stroke="#CD2626" stroke-width="3.5" />
<text x="486.6" y="82.7" font-size="31.2" fill="#000" stroke="#000" stroke-width="0.6" text-anchor="middle" >VGP</text>
<rect x="538.3" y="59.1" width="39.7" height="23.9" fill="#eeeefb"/>
<line x1="540.3" y1="71.1" x2="576" y2="71.1" stroke="#3A5FCD" stroke-width="3.5" />
<text x="639.4" y="82.7" font-size="31.2" fill="#000" stroke="#000" stroke-width="0.6" text-anchor="middle" >NVGP</text>
<text x="309.2" y="101.3" font-size="23.5" fill="#000" stroke="#000" stroke-width="0.5" text-anchor="middle" >Warning Signal</text>
<text x="309.4" y="133.3" font-size="23.5" fill="#000" stroke="#000" stroke-width="0.5" text-anchor="middle" >Offset</text>
<text x="595.5" y="117.2" font-size="23.5" fill="#000" stroke="#000" stroke-width="0.5" text-anchor="middle" >Peak rebound</text>
<text x="502.5" y="381" font-size="23.5" fill="#000" stroke="#000" stroke-width="0.5" text-anchor="middle" >Peak inhibition</text>
<path d="M556.3,149.7 V137.6 H633.6 V149.7" fill="none" stroke="#000" stroke-width="1.4"/>
<path d="M463.5,332 V343.5 H541 V332" fill="none" stroke="#000" stroke-width="1.4"/>
<text x="-3.0" y="28.8" font-size="39.3" fill="#000" stroke="#000" stroke-width="0.6" text-anchor="start" >a</text>
</g>
<g id="panel-b">
<rect x="991.7" y="268.2" width="65.9" height="155.4" fill="#CD2626" stroke="#000" stroke-width="1.5"/>
<rect x="1065.1" y="225.5" width="67.2" height="198.1" fill="#3A5FCD" stroke="#000" stroke-width="1.5"/>
<line x1="1024.6" y1="237.3" x2="1024.6" y2="268.2" stroke="#000" stroke-width="1.5" />
<line x1="1019.0999999999999" y1="237.3" x2="1030.1" y2="237.3" stroke="#000" stroke-width="1.5" />
<line x1="1098.7" y1="199.2" x2="1098.7" y2="225.5" stroke="#000" stroke-width="1.5" />
<line x1="1093.1000000000001" y1="199.2" x2="1104.3" y2="199.2" stroke="#000" stroke-width="1.5" />
<circle cx="1025.5" cy="130.2" r="2.85" fill="#CD2626" stroke="#000" stroke-width="1.3"/>
<circle cx="1025" cy="145.2" r="2.85" fill="#CD2626" stroke="#000" stroke-width="1.3"/>
<circle cx="1024" cy="172.5" r="2.85" fill="#CD2626" stroke="#000" stroke-width="1.3"/>
<circle cx="1024.4" cy="198.6" r="2.85" fill="#CD2626" stroke="#000" stroke-width="1.3"/>
<circle cx="1025.2" cy="227.5" r="2.85" fill="#CD2626" stroke="#000" stroke-width="1.3"/>
<circle cx="1024.6" cy="236.4" r="2.85" fill="#CD2626" stroke="#000" stroke-width="1.3"/>
<circle cx="1024.4" cy="246.2" r="2.85" fill="#CD2626" stroke="#000" stroke-width="1.3"/>
<circle cx="1025.5" cy="247.8" r="2.85" fill="#CD2626" stroke="#000" stroke-width="1.3"/>
<circle cx="1024.8" cy="259" r="2.85" fill="#CD2626" stroke="#000" stroke-width="1.3"/>
<circle cx="1024.4" cy="263.3" r="2.85" fill="#CD2626" stroke="#000" stroke-width="1.3"/>
<circle cx="1025.5" cy="291.3" r="2.85" fill="#CD2626" stroke="#000" stroke-width="1.3"/>
<circle cx="1025.2" cy="298.4" r="2.85" fill="#CD2626" stroke="#000" stroke-width="1.3"/>
<circle cx="1025.9" cy="328.8" r="2.85" fill="#CD2626" stroke="#000" stroke-width="1.3"/>
<circle cx="1024.3" cy="335.4" r="2.85" fill="#CD2626" stroke="#000" stroke-width="1.3"/>
<circle cx="1025.2" cy="340.6" r="2.85" fill="#CD2626" stroke="#000" stroke-width="1.3"/>
<circle cx="1025" cy="383.1" r="2.85" fill="#CD2626" stroke="#000" stroke-width="1.3"/>
<circle cx="1025" cy="390.4" r="2.85" fill="#CD2626" stroke="#000" stroke-width="1.3"/>
<circle cx="1097.7" cy="129.4" r="2.85" fill="#3A5FCD" stroke="#000" stroke-width="1.3"/>
<circle cx="1099.3" cy="132.8" r="2.85" fill="#3A5FCD" stroke="#000" stroke-width="1.3"/>
<circle cx="1098.3" cy="149.6" r="2.85" fill="#3A5FCD" stroke="#000" stroke-width="1.3"/>
<circle cx="1098.3" cy="151" r="2.85" fill="#3A5FCD" stroke="#000" stroke-width="1.3"/>
<circle cx="1099.3" cy="163.2" r="2.85" fill="#3A5FCD" stroke="#000" stroke-width="1.3"/>
<circle cx="1099.4" cy="172.5" r="2.85" fill="#3A5FCD" stroke="#000" stroke-width="1.3"/>
<circle cx="1099.3" cy="183.5" r="2.85" fill="#3A5FCD" stroke="#000" stroke-width="1.3"/>
<circle cx="1098.7" cy="188.4" r="2.85" fill="#3A5FCD" stroke="#000" stroke-width="1.3"/>
<circle cx="1097.7" cy="206.3" r="2.85" fill="#3A5FCD" stroke="#000" stroke-width="1.3"/>
<circle cx="1098.5" cy="213.7" r="2.85" fill="#3A5FCD" stroke="#000" stroke-width="1.3"/>
<circle cx="1098.7" cy="227.5" r="2.85" fill="#3A5FCD" stroke="#000" stroke-width="1.3"/>
<circle cx="1099.3" cy="246.2" r="2.85" fill="#3A5FCD" stroke="#000" stroke-width="1.3"/>
<circle cx="1098.9" cy="252.1" r="2.85" fill="#3A5FCD" stroke="#000" stroke-width="1.3"/>
<circle cx="1099.3" cy="262.9" r="2.85" fill="#3A5FCD" stroke="#000" stroke-width="1.3"/>
<circle cx="1099.3" cy="268.8" r="2.85" fill="#3A5FCD" stroke="#000" stroke-width="1.3"/>
<circle cx="1098.9" cy="273.7" r="2.85" fill="#3A5FCD" stroke="#000" stroke-width="1.3"/>
<circle cx="1099.3" cy="322" r="2.85" fill="#3A5FCD" stroke="#000" stroke-width="1.3"/>
<circle cx="1098.3" cy="329.5" r="2.85" fill="#3A5FCD" stroke="#000" stroke-width="1.3"/>
<circle cx="1098.6" cy="344.2" r="2.85" fill="#3A5FCD" stroke="#000" stroke-width="1.3"/>
<text transform="translate(1024.6,305.7) rotate(-90)" font-size="31.5" fill="#fff" stroke="#fff" stroke-width="0.5" text-anchor="middle" >208</text>
<text transform="translate(1098.7,263) rotate(-90)" font-size="31.5" fill="#fff" stroke="#fff" stroke-width="0.5" text-anchor="middle" >226</text>
<path d="M980.3,33 V423.6 H1142.3" fill="none" stroke="#000" stroke-width="1.6" stroke-linecap="square"/>
<line x1="969.3" y1="50" x2="980.3" y2="50" stroke="#333" stroke-width="1.6" />
<text x="961" y="61.2" font-size="31.0" fill="#4d4d4d" stroke="#4d4d4d" stroke-width="0.6" text-anchor="end" >300</text>
<line x1="969.3" y1="168.6" x2="980.3" y2="168.6" stroke="#333" stroke-width="1.6" />
<text x="961" y="179.79999999999998" font-size="31.0" fill="#4d4d4d" stroke="#4d4d4d" stroke-width="0.6" text-anchor="end" >250</text>
<line x1="969.3" y1="287.2" x2="980.3" y2="287.2" stroke="#333" stroke-width="1.6" />
<text x="961" y="298.4" font-size="31.0" fill="#4d4d4d" stroke="#4d4d4d" stroke-width="0.6" text-anchor="end" >200</text>
<line x1="969.3" y1="405.8" x2="980.3" y2="405.8" stroke="#333" stroke-width="1.6" />
<text x="961" y="417.0" font-size="31.0" fill="#4d4d4d" stroke="#4d4d4d" stroke-width="0.6" text-anchor="end" >150</text>
<line x1="1024.6" y1="423.6" x2="1024.6" y2="434.6" stroke="#333" stroke-width="1.5" />
<text x="1025.3999999999999" y="462.7" font-size="27.0" fill="#000" stroke="#000" stroke-width="0.7" text-anchor="middle" >VGP</text>
<line x1="1098.7" y1="423.6" x2="1098.7" y2="434.6" stroke="#333" stroke-width="1.5" />
<text x="1098.3" y="462.7" font-size="27.0" fill="#000" stroke="#000" stroke-width="0.7" text-anchor="middle" >NVGP</text>
<text transform="translate(891.6,227.8) rotate(-90)" font-size="31.5" fill="#000" stroke="#000" stroke-width="0.4" text-anchor="middle" >Latency of peak inhibition (ms)</text>
<line x1="1024.6" y1="49.9" x2="1098.7" y2="49.9" stroke="#000" stroke-width="1.4" />
<text x="1061.7" y="59.4" font-size="38" fill="#000" stroke="#000" stroke-width="0.7" text-anchor="middle" >*</text>
<rect x="1310.5" y="230.5" width="75.6" height="193.1" fill="#CD2626" stroke="#000" stroke-width="1.5"/>
<rect x="1394" y="192" width="76.0" height="231.6" fill="#3A5FCD" stroke="#000" stroke-width="1.5"/>
<line x1="1348.1" y1="204.9" x2="1348.1" y2="230.4" stroke="#000" stroke-width="1.5" />
<line x1="1341.6" y1="204.9" x2="1354.6" y2="204.9" stroke="#000" stroke-width="1.5" />
<line x1="1431.7" y1="163" x2="1431.7" y2="191.9" stroke="#000" stroke-width="1.5" />
<line x1="1425.4" y1="163" x2="1438.0" y2="163" stroke="#000" stroke-width="1.5" />
<circle cx="1347.4" cy="91.5" r="2.85" fill="#CD2626" stroke="#000" stroke-width="1.3"/>
<circle cx="1347" cy="146.1" r="2.85" fill="#CD2626" stroke="#000" stroke-width="1.3"/>
<circle cx="1348.7" cy="165.8" r="2.85" fill="#CD2626" stroke="#000" stroke-width="1.3"/>
<circle cx="1348.3" cy="167.5" r="2.85" fill="#CD2626" stroke="#000" stroke-width="1.3"/>
<circle cx="1348.9" cy="178.8" r="2.85" fill="#CD2626" stroke="#000" stroke-width="1.3"/>
<circle cx="1348.1" cy="186.5" r="2.85" fill="#CD2626" stroke="#000" stroke-width="1.3"/>
<circle cx="1348.9" cy="188.5" r="2.85" fill="#CD2626" stroke="#000" stroke-width="1.3"/>
<circle cx="1348.3" cy="196" r="2.85" fill="#CD2626" stroke="#000" stroke-width="1.3"/>
<circle cx="1347.9" cy="203" r="2.85" fill="#CD2626" stroke="#000" stroke-width="1.3"/>
<circle cx="1347.9" cy="212" r="2.85" fill="#CD2626" stroke="#000" stroke-width="1.3"/>
<circle cx="1347.7" cy="235.1" r="2.85" fill="#CD2626" stroke="#000" stroke-width="1.3"/>
<circle cx="1348.1" cy="241" r="2.85" fill="#CD2626" stroke="#000" stroke-width="1.3"/>
<circle cx="1347.7" cy="245.9" r="2.85" fill="#CD2626" stroke="#000" stroke-width="1.3"/>
<circle cx="1347.7" cy="251.3" r="2.85" fill="#CD2626" stroke="#000" stroke-width="1.3"/>
<circle cx="1348.3" cy="262.8" r="2.85" fill="#CD2626" stroke="#000" stroke-width="1.3"/>
<circle cx="1348.3" cy="269.7" r="2.85" fill="#CD2626" stroke="#000" stroke-width="1.3"/>
<circle cx="1347.4" cy="275.5" r="2.85" fill="#CD2626" stroke="#000" stroke-width="1.3"/>
<circle cx="1347.7" cy="289.1" r="2.85" fill="#CD2626" stroke="#000" stroke-width="1.3"/>
<circle cx="1347.7" cy="306.4" r="2.85" fill="#CD2626" stroke="#000" stroke-width="1.3"/>
<circle cx="1347.4" cy="315.1" r="2.85" fill="#CD2626" stroke="#000" stroke-width="1.3"/>
<circle cx="1347.4" cy="316.6" r="2.85" fill="#CD2626" stroke="#000" stroke-width="1.3"/>
<circle cx="1431.5" cy="55.9" r="2.85" fill="#3A5FCD" stroke="#000" stroke-width="1.3"/>
<circle cx="1431.3" cy="87" r="2.85" fill="#3A5FCD" stroke="#000" stroke-width="1.3"/>
<circle cx="1432.3" cy="108.1" r="2.85" fill="#3A5FCD" stroke="#000" stroke-width="1.3"/>
<circle cx="1431" cy="115" r="2.85" fill="#3A5FCD" stroke="#000" stroke-width="1.3"/>
<circle cx="1431.7" cy="117.9" r="2.85" fill="#3A5FCD" stroke="#000" stroke-width="1.3"/>
<circle cx="1431.9" cy="125" r="2.85" fill="#3A5FCD" stroke="#000" stroke-width="1.3"/>
<circle cx="1432.1" cy="138.6" r="2.85" fill="#3A5FCD" stroke="#000" stroke-width="1.3"/>
<circle cx="1431" cy="158.7" r="2.85" fill="#3A5FCD" stroke="#000" stroke-width="1.3"/>
<circle cx="1431" cy="182.2" r="2.85" fill="#3A5FCD" stroke="#000" stroke-width="1.3"/>
<circle cx="1432.8" cy="182.6" r="2.85" fill="#3A5FCD" stroke="#000" stroke-width="1.3"/>
<circle cx="1431.7" cy="189.6" r="2.85" fill="#3A5FCD" stroke="#000" stroke-width="1.3"/>
<circle cx="1431.7" cy="215.1" r="2.85" fill="#3A5FCD" stroke="#000" stroke-width="1.3"/>
<circle cx="1431.7" cy="223.3" r="2.85" fill="#3A5FCD" stroke="#000" stroke-width="1.3"/>
<circle cx="1432.3" cy="230.8" r="2.85" fill="#3A5FCD" stroke="#000" stroke-width="1.3"/>
<circle cx="1432.3" cy="253.5" r="2.85" fill="#3A5FCD" stroke="#000" stroke-width="1.3"/>
<circle cx="1431.9" cy="261" r="2.85" fill="#3A5FCD" stroke="#000" stroke-width="1.3"/>
<circle cx="1432.8" cy="266.4" r="2.85" fill="#3A5FCD" stroke="#000" stroke-width="1.3"/>
<circle cx="1431.7" cy="290.2" r="2.85" fill="#3A5FCD" stroke="#000" stroke-width="1.3"/>
<circle cx="1431.5" cy="294.5" r="2.85" fill="#3A5FCD" stroke="#000" stroke-width="1.3"/>
<text transform="translate(1348.1,268) rotate(-90)" font-size="31.5" fill="#fff" stroke="#fff" stroke-width="0.5" text-anchor="middle" >374</text>
<text transform="translate(1431.9,229.4) rotate(-90)" font-size="31.5" fill="#fff" stroke="#fff" stroke-width="0.5" text-anchor="middle" >390</text>
<path d="M1298.1,33 V423.6 H1481.0" fill="none" stroke="#000" stroke-width="1.6" stroke-linecap="square"/>
<line x1="1287.1" y1="50" x2="1298.1" y2="50" stroke="#333" stroke-width="1.6" />
<text x="1278.7" y="61.2" font-size="31.0" fill="#4d4d4d" stroke="#4d4d4d" stroke-width="0.6" text-anchor="end" >450</text>
<line x1="1287.1" y1="168.6" x2="1298.1" y2="168.6" stroke="#333" stroke-width="1.6" />
<text x="1278.7" y="179.79999999999998" font-size="31.0" fill="#4d4d4d" stroke="#4d4d4d" stroke-width="0.6" text-anchor="end" >400</text>
<line x1="1287.1" y1="287.2" x2="1298.1" y2="287.2" stroke="#333" stroke-width="1.6" />
<text x="1278.7" y="298.4" font-size="31.0" fill="#4d4d4d" stroke="#4d4d4d" stroke-width="0.6" text-anchor="end" >350</text>
<line x1="1287.1" y1="405.8" x2="1298.1" y2="405.8" stroke="#333" stroke-width="1.6" />
<text x="1278.7" y="417.0" font-size="31.0" fill="#4d4d4d" stroke="#4d4d4d" stroke-width="0.6" text-anchor="end" >300</text>
<line x1="1348" y1="423.6" x2="1348" y2="434.6" stroke="#333" stroke-width="1.5" />
<text x="1348.4" y="462.7" font-size="27.0" fill="#000" stroke="#000" stroke-width="0.7" text-anchor="middle" >VGP</text>
<line x1="1431.9" y1="423.6" x2="1431.9" y2="434.6" stroke="#333" stroke-width="1.5" />
<text x="1431.9" y="462.7" font-size="27.0" fill="#000" stroke="#000" stroke-width="0.7" text-anchor="middle" >NVGP</text>
<text transform="translate(1208.2,228.9) rotate(-90)" font-size="31.5" fill="#000" stroke="#000" stroke-width="0.4" text-anchor="middle" >Latency of peak rebound (ms)</text>
<line x1="1348.1" y1="49.8" x2="1431.9" y2="49.8" stroke="#000" stroke-width="1.4" />
<text x="1389.8" y="59.2" font-size="38" fill="#000" stroke="#000" stroke-width="0.7" text-anchor="middle" >*</text>
<text x="846.7" y="28.3" font-size="39.3" fill="#000" stroke="#000" stroke-width="0.6" text-anchor="start" >b</text>
</g>
<g id="panel-c">
<polygon points="1688.1,189.8 1695.3,193.0 1702.5,196.1 1709.8,199.3 1717.0,202.4 1724.2,205.6 1731.4,208.7 1738.6,211.8 1745.8,214.9 1753.1,218.0 1760.3,221.1 1767.5,224.1 1774.7,227.1 1781.9,230.1 1789.1,233.0 1796.4,235.9 1803.6,238.7 1810.8,241.5 1818.0,244.2 1825.2,246.9 1832.4,249.4 1839.7,251.8 1846.9,254.1 1854.1,256.2 1861.3,258.2 1868.5,260.0 1875.8,261.7 1883.0,263.2 1890.2,264.6 1897.4,265.8 1904.6,266.9 1911.8,267.8 1919.1,268.7 1926.3,269.5 1933.5,270.2 1940.7,270.9 1947.9,271.5 1955.1,272.0 1962.4,272.5 1969.6,273.0 1976.8,273.5 1976.8,327.1 1969.6,324.1 1962.4,321.1 1955.1,318.1 1947.9,315.1 1940.7,312.2 1933.5,309.4 1926.3,306.6 1919.1,303.9 1911.8,301.3 1904.6,298.7 1897.4,296.3 1890.2,294.0 1883.0,291.9 1875.8,289.9 1868.5,288.1 1861.3,286.4 1854.1,284.9 1846.9,283.5 1839.7,282.3 1832.4,281.2 1825.2,280.2 1818.0,279.4 1810.8,278.6 1803.6,277.9 1796.4,277.2 1789.1,276.6 1781.9,276.0 1774.7,275.5 1767.5,275.0 1760.3,274.5 1753.1,274.1 1745.8,273.7 1738.6,273.3 1731.4,272.9 1724.2,272.5 1717.0,272.2 1709.8,271.8 1702.5,271.5 1695.3,271.1 1688.1,270.8" fill="#808080" fill-opacity="0.29"/>
<polygon points="1688.1,161.0 1694.9,165.2 1701.7,169.4 1708.5,173.6 1715.2,177.7 1722.0,181.9 1728.8,186.0 1735.6,190.1 1742.4,194.1 1749.2,198.1 1755.9,202.1 1762.7,206.1 1769.5,210.0 1776.3,213.8 1783.1,217.5 1789.9,221.2 1796.7,224.8 1803.4,228.3 1810.2,231.6 1817.0,234.8 1823.8,237.8 1830.6,240.7 1837.4,243.3 1844.2,245.8 1850.9,248.0 1857.7,250.0 1864.5,251.8 1871.3,253.5 1878.1,254.9 1884.9,256.2 1891.7,257.4 1898.4,258.4 1905.2,259.3 1912.0,260.2 1918.8,260.9 1925.6,261.6 1932.4,262.3 1939.1,262.8 1945.9,263.4 1952.7,263.9 1959.5,264.4 1959.5,345.6 1952.7,341.5 1945.9,337.5 1939.1,333.5 1932.4,329.5 1925.6,325.6 1918.8,321.8 1912.0,318.0 1905.2,314.2 1898.4,310.6 1891.7,307.1 1884.9,303.7 1878.1,300.4 1871.3,297.3 1864.5,294.4 1857.7,291.6 1850.9,289.1 1844.2,286.8 1837.4,284.7 1830.6,282.8 1823.8,281.1 1817.0,279.5 1810.2,278.2 1803.4,277.0 1796.7,275.9 1789.9,274.9 1783.1,274.0 1776.3,273.2 1769.5,272.5 1762.7,271.8 1755.9,271.2 1749.2,270.7 1742.4,270.1 1735.6,269.6 1728.8,269.2 1722.0,268.7 1715.2,268.3 1708.5,267.9 1701.7,267.5 1694.9,267.1 1688.1,266.8" fill="#5f55d7" fill-opacity="0.1"/>
<polygon points="1767.2,228.1 1772.4,229.9 1777.7,231.8 1782.9,233.6 1788.2,235.4 1793.4,237.1 1798.6,238.9 1803.9,240.6 1809.1,242.3 1814.4,244.0 1819.6,245.6 1824.8,247.2 1830.1,248.7 1835.3,250.2 1840.6,251.6 1845.8,253.0 1851.0,254.3 1856.3,255.5 1861.5,256.6 1866.8,257.6 1872.0,258.4 1877.2,259.2 1882.5,259.8 1887.7,260.2 1893.0,260.5 1898.2,260.6 1903.4,260.6 1908.7,260.4 1913.9,260.1 1919.2,259.7 1924.4,259.1 1929.6,258.4 1934.9,257.5 1940.1,256.6 1945.4,255.7 1950.6,254.6 1955.8,253.5 1961.1,252.3 1966.3,251.1 1971.6,249.8 1976.8,248.5 1976.8,321.9 1971.6,320.3 1966.3,318.6 1961.1,317.1 1955.8,315.6 1950.6,314.1 1945.4,312.7 1940.1,311.4 1934.9,310.2 1929.6,309.0 1924.4,308.0 1919.2,307.1 1913.9,306.3 1908.7,305.6 1903.4,305.1 1898.2,304.7 1893.0,304.5 1887.7,304.5 1882.5,304.6 1877.2,304.9 1872.0,305.3 1866.8,305.8 1861.5,306.4 1856.3,307.2 1851.0,308.1 1845.8,309.0 1840.6,310.0 1835.3,311.1 1830.1,312.3 1824.8,313.5 1819.6,314.7 1814.4,316.0 1809.1,317.4 1803.9,318.7 1798.6,320.1 1793.4,321.5 1788.2,323.0 1782.9,324.4 1777.7,325.9 1772.4,327.4 1767.2,328.9" fill="#f59b78" fill-opacity="0.2"/>
<polyline points="1688.1,230.3 1976.8,300.5" fill="none" stroke="#120c0e" stroke-width="3.9" stroke-linejoin="round" stroke-linecap="butt" />
<polyline points="1688.1,213.4 1767.2,240.1" fill="none" stroke="#3A5FCD" stroke-width="3.6" stroke-linejoin="round" stroke-linecap="butt" />
<polyline points="1767.2,240.1 1959.5,305.0" fill="none" stroke="#6459af" stroke-width="3.6" stroke-linejoin="round" stroke-linecap="butt" />
<polyline points="1767.2,278.5 1976.8,285.1" fill="none" stroke="#CD2626" stroke-width="3.6" stroke-linejoin="round" stroke-linecap="butt" />
<circle cx="1767.2" cy="271" r="4.45" fill="#3A5FCD" stroke="#fff" stroke-width="1.1"/>
<circle cx="1813.7" cy="250.5" r="4.45" fill="#3A5FCD" stroke="#fff" stroke-width="1.1"/>
<circle cx="1838.6" cy="249.8" r="4.45" fill="#3A5FCD" stroke="#fff" stroke-width="1.1"/>
<circle cx="1832.3" cy="252.8" r="4.45" fill="#3A5FCD" stroke="#fff" stroke-width="1.1"/>
<circle cx="1813.7" cy="331.4" r="4.45" fill="#3A5FCD" stroke="#fff" stroke-width="1.1"/>
<circle cx="1843.2" cy="311" r="4.45" fill="#3A5FCD" stroke="#fff" stroke-width="1.1"/>
<circle cx="1857.1" cy="320" r="4.45" fill="#3A5FCD" stroke="#fff" stroke-width="1.1"/>
<circle cx="1864.7" cy="330.6" r="4.45" fill="#3A5FCD" stroke="#fff" stroke-width="1.1"/>
<circle cx="1872.7" cy="236.1" r="4.45" fill="#3A5FCD" stroke="#fff" stroke-width="1.1"/>
<circle cx="1888.2" cy="222.5" r="4.45" fill="#3A5FCD" stroke="#fff" stroke-width="1.1"/>
<circle cx="1891.2" cy="252.5" r="4.45" fill="#3A5FCD" stroke="#fff" stroke-width="1.1"/>
<circle cx="1896" cy="291.6" r="4.45" fill="#3A5FCD" stroke="#fff" stroke-width="1.1"/>
<circle cx="1889.6" cy="347.3" r="4.45" fill="#3A5FCD" stroke="#fff" stroke-width="1.1"/>
<circle cx="1916" cy="211.5" r="4.45" fill="#3A5FCD" stroke="#fff" stroke-width="1.1"/>
<circle cx="1928.3" cy="230.6" r="4.45" fill="#3A5FCD" stroke="#fff" stroke-width="1.1"/>
<circle cx="1945.4" cy="245.9" r="4.45" fill="#3A5FCD" stroke="#fff" stroke-width="1.1"/>
<circle cx="1942.3" cy="282.2" r="4.45" fill="#3A5FCD" stroke="#fff" stroke-width="1.1"/>
<circle cx="1954.6" cy="290.4" r="4.45" fill="#3A5FCD" stroke="#fff" stroke-width="1.1"/>
<circle cx="1971.9" cy="292.4" r="4.45" fill="#3A5FCD" stroke="#fff" stroke-width="1.1"/>
<circle cx="1976.2" cy="263.3" r="4.45" fill="#3A5FCD" stroke="#fff" stroke-width="1.1"/>
<circle cx="1956.3" cy="320.7" r="4.45" fill="#3A5FCD" stroke="#fff" stroke-width="1.1"/>
<circle cx="1930" cy="405.8" r="4.45" fill="#3A5FCD" stroke="#fff" stroke-width="1.1"/>
<circle cx="1688.4" cy="256.9" r="4.45" fill="#CD2626" stroke="#fff" stroke-width="1.1"/>
<circle cx="1700.6" cy="250.5" r="4.45" fill="#CD2626" stroke="#fff" stroke-width="1.1"/>
<circle cx="1694.5" cy="133" r="4.45" fill="#CD2626" stroke="#fff" stroke-width="1.1"/>
<circle cx="1809.1" cy="154.4" r="4.45" fill="#CD2626" stroke="#fff" stroke-width="1.1"/>
<circle cx="1829.3" cy="200.6" r="4.45" fill="#CD2626" stroke="#fff" stroke-width="1.1"/>
<circle cx="1832.4" cy="236.4" r="4.45" fill="#CD2626" stroke="#fff" stroke-width="1.1"/>
<circle cx="1793.5" cy="244.5" r="4.45" fill="#CD2626" stroke="#fff" stroke-width="1.1"/>
<circle cx="1781.3" cy="303.5" r="4.45" fill="#CD2626" stroke="#fff" stroke-width="1.1"/>
<circle cx="1838.2" cy="286.1" r="4.45" fill="#CD2626" stroke="#fff" stroke-width="1.1"/>
<circle cx="1843.3" cy="230.3" r="4.45" fill="#CD2626" stroke="#fff" stroke-width="1.1"/>
<circle cx="1843.3" cy="259.3" r="4.45" fill="#CD2626" stroke="#fff" stroke-width="1.1"/>
<circle cx="1846.3" cy="273.7" r="4.45" fill="#CD2626" stroke="#fff" stroke-width="1.1"/>
<circle cx="1846.3" cy="297.5" r="4.45" fill="#CD2626" stroke="#fff" stroke-width="1.1"/>
<circle cx="1889.5" cy="269.8" r="4.45" fill="#CD2626" stroke="#fff" stroke-width="1.1"/>
<circle cx="1888.2" cy="326" r="4.45" fill="#CD2626" stroke="#fff" stroke-width="1.1"/>
<circle cx="1911.2" cy="247.7" r="4.45" fill="#CD2626" stroke="#fff" stroke-width="1.1"/>
<circle cx="1923.7" cy="247.7" r="4.45" fill="#CD2626" stroke="#fff" stroke-width="1.1"/>
<circle cx="1929.8" cy="276.6" r="4.45" fill="#CD2626" stroke="#fff" stroke-width="1.1"/>
<circle cx="1945.4" cy="271.7" r="4.45" fill="#CD2626" stroke="#fff" stroke-width="1.1"/>
<circle cx="1943.8" cy="288.1" r="4.45" fill="#CD2626" stroke="#fff" stroke-width="1.1"/>
<circle cx="1827.8" cy="378.7" r="4.45" fill="#CD2626" stroke="#fff" stroke-width="1.1"/>
<circle cx="1925.1" cy="377.7" r="4.45" fill="#CD2626" stroke="#fff" stroke-width="1.1"/>
<circle cx="1959.4" cy="335.5" r="4.45" fill="#CD2626" stroke="#fff" stroke-width="1.1"/>
<path d="M1674.0,33 V423.6 H1990.0" fill="none" stroke="#000" stroke-width="1.6" stroke-linecap="square"/>
<line x1="1663.0" y1="63.6" x2="1674.0" y2="63.6" stroke="#333" stroke-width="1.6" />
<text x="1654.5" y="74.8" font-size="31.0" fill="#4d4d4d" stroke="#4d4d4d" stroke-width="0.6" text-anchor="end" >20</text>
<line x1="1663.0" y1="132.4" x2="1674.0" y2="132.4" stroke="#333" stroke-width="1.6" />
<text x="1654.5" y="143.6" font-size="31.0" fill="#4d4d4d" stroke="#4d4d4d" stroke-width="0.6" text-anchor="end" >15</text>
<line x1="1663.0" y1="201.2" x2="1674.0" y2="201.2" stroke="#333" stroke-width="1.6" />
<text x="1654.5" y="212.39999999999998" font-size="31.0" fill="#4d4d4d" stroke="#4d4d4d" stroke-width="0.6" text-anchor="end" >10</text>
<line x1="1663.0" y1="270" x2="1674.0" y2="270" stroke="#333" stroke-width="1.6" />
<text x="1654.5" y="281.2" font-size="31.0" fill="#4d4d4d" stroke="#4d4d4d" stroke-width="0.6" text-anchor="end" >5</text>
<line x1="1663.0" y1="338.8" x2="1674.0" y2="338.8" stroke="#333" stroke-width="1.6" />
<text x="1654.5" y="350.0" font-size="31.0" fill="#4d4d4d" stroke="#4d4d4d" stroke-width="0.6" text-anchor="end" >0</text>
<line x1="1663.0" y1="407.6" x2="1674.0" y2="407.6" stroke="#333" stroke-width="1.6" />
<text x="1654.5" y="418.8" font-size="31.0" fill="#4d4d4d" stroke="#4d4d4d" stroke-width="0.6" text-anchor="end" >−5</text>
<line x1="1745.7" y1="423.6" x2="1745.7" y2="434.6" stroke="#333" stroke-width="1.5" />
<text x="1746.2" y="462.9" font-size="27.6" fill="#000" stroke="#000" stroke-width="0.7" text-anchor="middle" >150</text>
<line x1="1823.0" y1="423.6" x2="1823.0" y2="434.6" stroke="#333" stroke-width="1.5" />
<text x="1823.5" y="462.9" font-size="27.6" fill="#000" stroke="#000" stroke-width="0.7" text-anchor="middle" >200</text>
<line x1="1900.4" y1="423.6" x2="1900.4" y2="434.6" stroke="#333" stroke-width="1.5" />
<text x="1900.9" y="462.9" font-size="27.6" fill="#000" stroke="#000" stroke-width="0.7" text-anchor="middle" >250</text>
<line x1="1977.9" y1="423.6" x2="1977.9" y2="434.6" stroke="#333" stroke-width="1.5" />
<text x="1978.4" y="462.9" font-size="27.6" fill="#000" stroke="#000" stroke-width="0.7" text-anchor="middle" >300</text>
<text transform="translate(1568.2,229.5) rotate(-90)" font-size="31.5" fill="#000" stroke="#000" stroke-width="0.4" text-anchor="middle" >Speed change via</text>
<text transform="translate(1600.8,228.4) rotate(-90)" font-size="31.5" fill="#000" stroke="#000" stroke-width="0.4" text-anchor="middle" >passage of time (%)</text>
<text x="1564.8" y="502.0" font-size="31.4" fill="#000" stroke="#000" stroke-width="0.6" text-anchor="start" >Latency of peak inhibition (ms)</text>
<text x="1704.10" y="56.4" font-size="23.2" fill="#CD2626" stroke="#CD2626" stroke-width="0.35">VGP</text>
<text x="1760.94" y="56.4" font-size="23.2" fill="#CD2626" stroke="#CD2626" stroke-width="0.35" font-style="italic">r</text>
<text x="1773.90" y="57.8" font-size="23.2" fill="#CD2626" stroke="#CD2626" stroke-width="0.1">=</text>
<text x="1792.35" y="57.6" font-size="23.2" fill="#CD2626" stroke="#CD2626" stroke-width="0.1">−</text>
<text x="1809.30" y="56.4" font-size="23.2" fill="#CD2626" stroke="#CD2626" stroke-width="0.35">0.46</text>
<text x="1862.50" y="56.4" font-size="23.2" fill="#CD2626" stroke="#CD2626" stroke-width="0.35" font-style="italic">p</text>
<text x="1881.10" y="57.8" font-size="23.2" fill="#CD2626" stroke="#CD2626" stroke-width="0.1">=</text>
<text x="1900.10" y="56.4" font-size="23.2" fill="#CD2626" stroke="#CD2626" stroke-width="0.35">0.028</text>
<text x="1694.95" y="84.0" font-size="23.2" fill="#3A5FCD" stroke="#3A5FCD" stroke-width="0.35">NVGP</text>
<text x="1768.94" y="84.0" font-size="23.2" fill="#3A5FCD" stroke="#3A5FCD" stroke-width="0.35" font-style="italic">r</text>
<text x="1781.90" y="85.4" font-size="23.2" fill="#3A5FCD" stroke="#3A5FCD" stroke-width="0.1">=</text>
<text x="1800.35" y="85.2" font-size="23.2" fill="#3A5FCD" stroke="#3A5FCD" stroke-width="0.1">−</text>
<text x="1817.30" y="84.0" font-size="23.2" fill="#3A5FCD" stroke="#3A5FCD" stroke-width="0.35">0.04</text>
<text x="1870.50" y="84.0" font-size="23.2" fill="#3A5FCD" stroke="#3A5FCD" stroke-width="0.35" font-style="italic">p</text>
<text x="1889.10" y="85.4" font-size="23.2" fill="#3A5FCD" stroke="#3A5FCD" stroke-width="0.1">=</text>
<text x="1908.10" y="84.0" font-size="23.2" fill="#3A5FCD" stroke="#3A5FCD" stroke-width="0.35">0.861</text>
<text x="1674.90" y="111.3" font-size="23.2" fill="#000" stroke="#000" stroke-width="0.35">Combined</text>
<text x="1789.24" y="111.3" font-size="23.2" fill="#000" stroke="#000" stroke-width="0.35" font-style="italic">r</text>
<text x="1802.20" y="112.7" font-size="23.2" fill="#000" stroke="#000" stroke-width="0.1">=</text>
<text x="1820.65" y="112.5" font-size="23.2" fill="#000" stroke="#000" stroke-width="0.1">−</text>
<text x="1837.60" y="111.3" font-size="23.2" fill="#000" stroke="#000" stroke-width="0.35">0.33</text>
<text x="1890.80" y="111.3" font-size="23.2" fill="#000" stroke="#000" stroke-width="0.35" font-style="italic">p</text>
<text x="1909.40" y="112.7" font-size="23.2" fill="#000" stroke="#000" stroke-width="0.1">=</text>
<text x="1928.40" y="111.3" font-size="23.2" fill="#000" stroke="#000" stroke-width="0.35">0.024</text>
<text x="1524.4" y="29.0" font-size="39" fill="#000" stroke="#000" stroke-width="0.6" text-anchor="start" font-weight="bold">c</text>
</g>
</svg>
</body>
</html>
